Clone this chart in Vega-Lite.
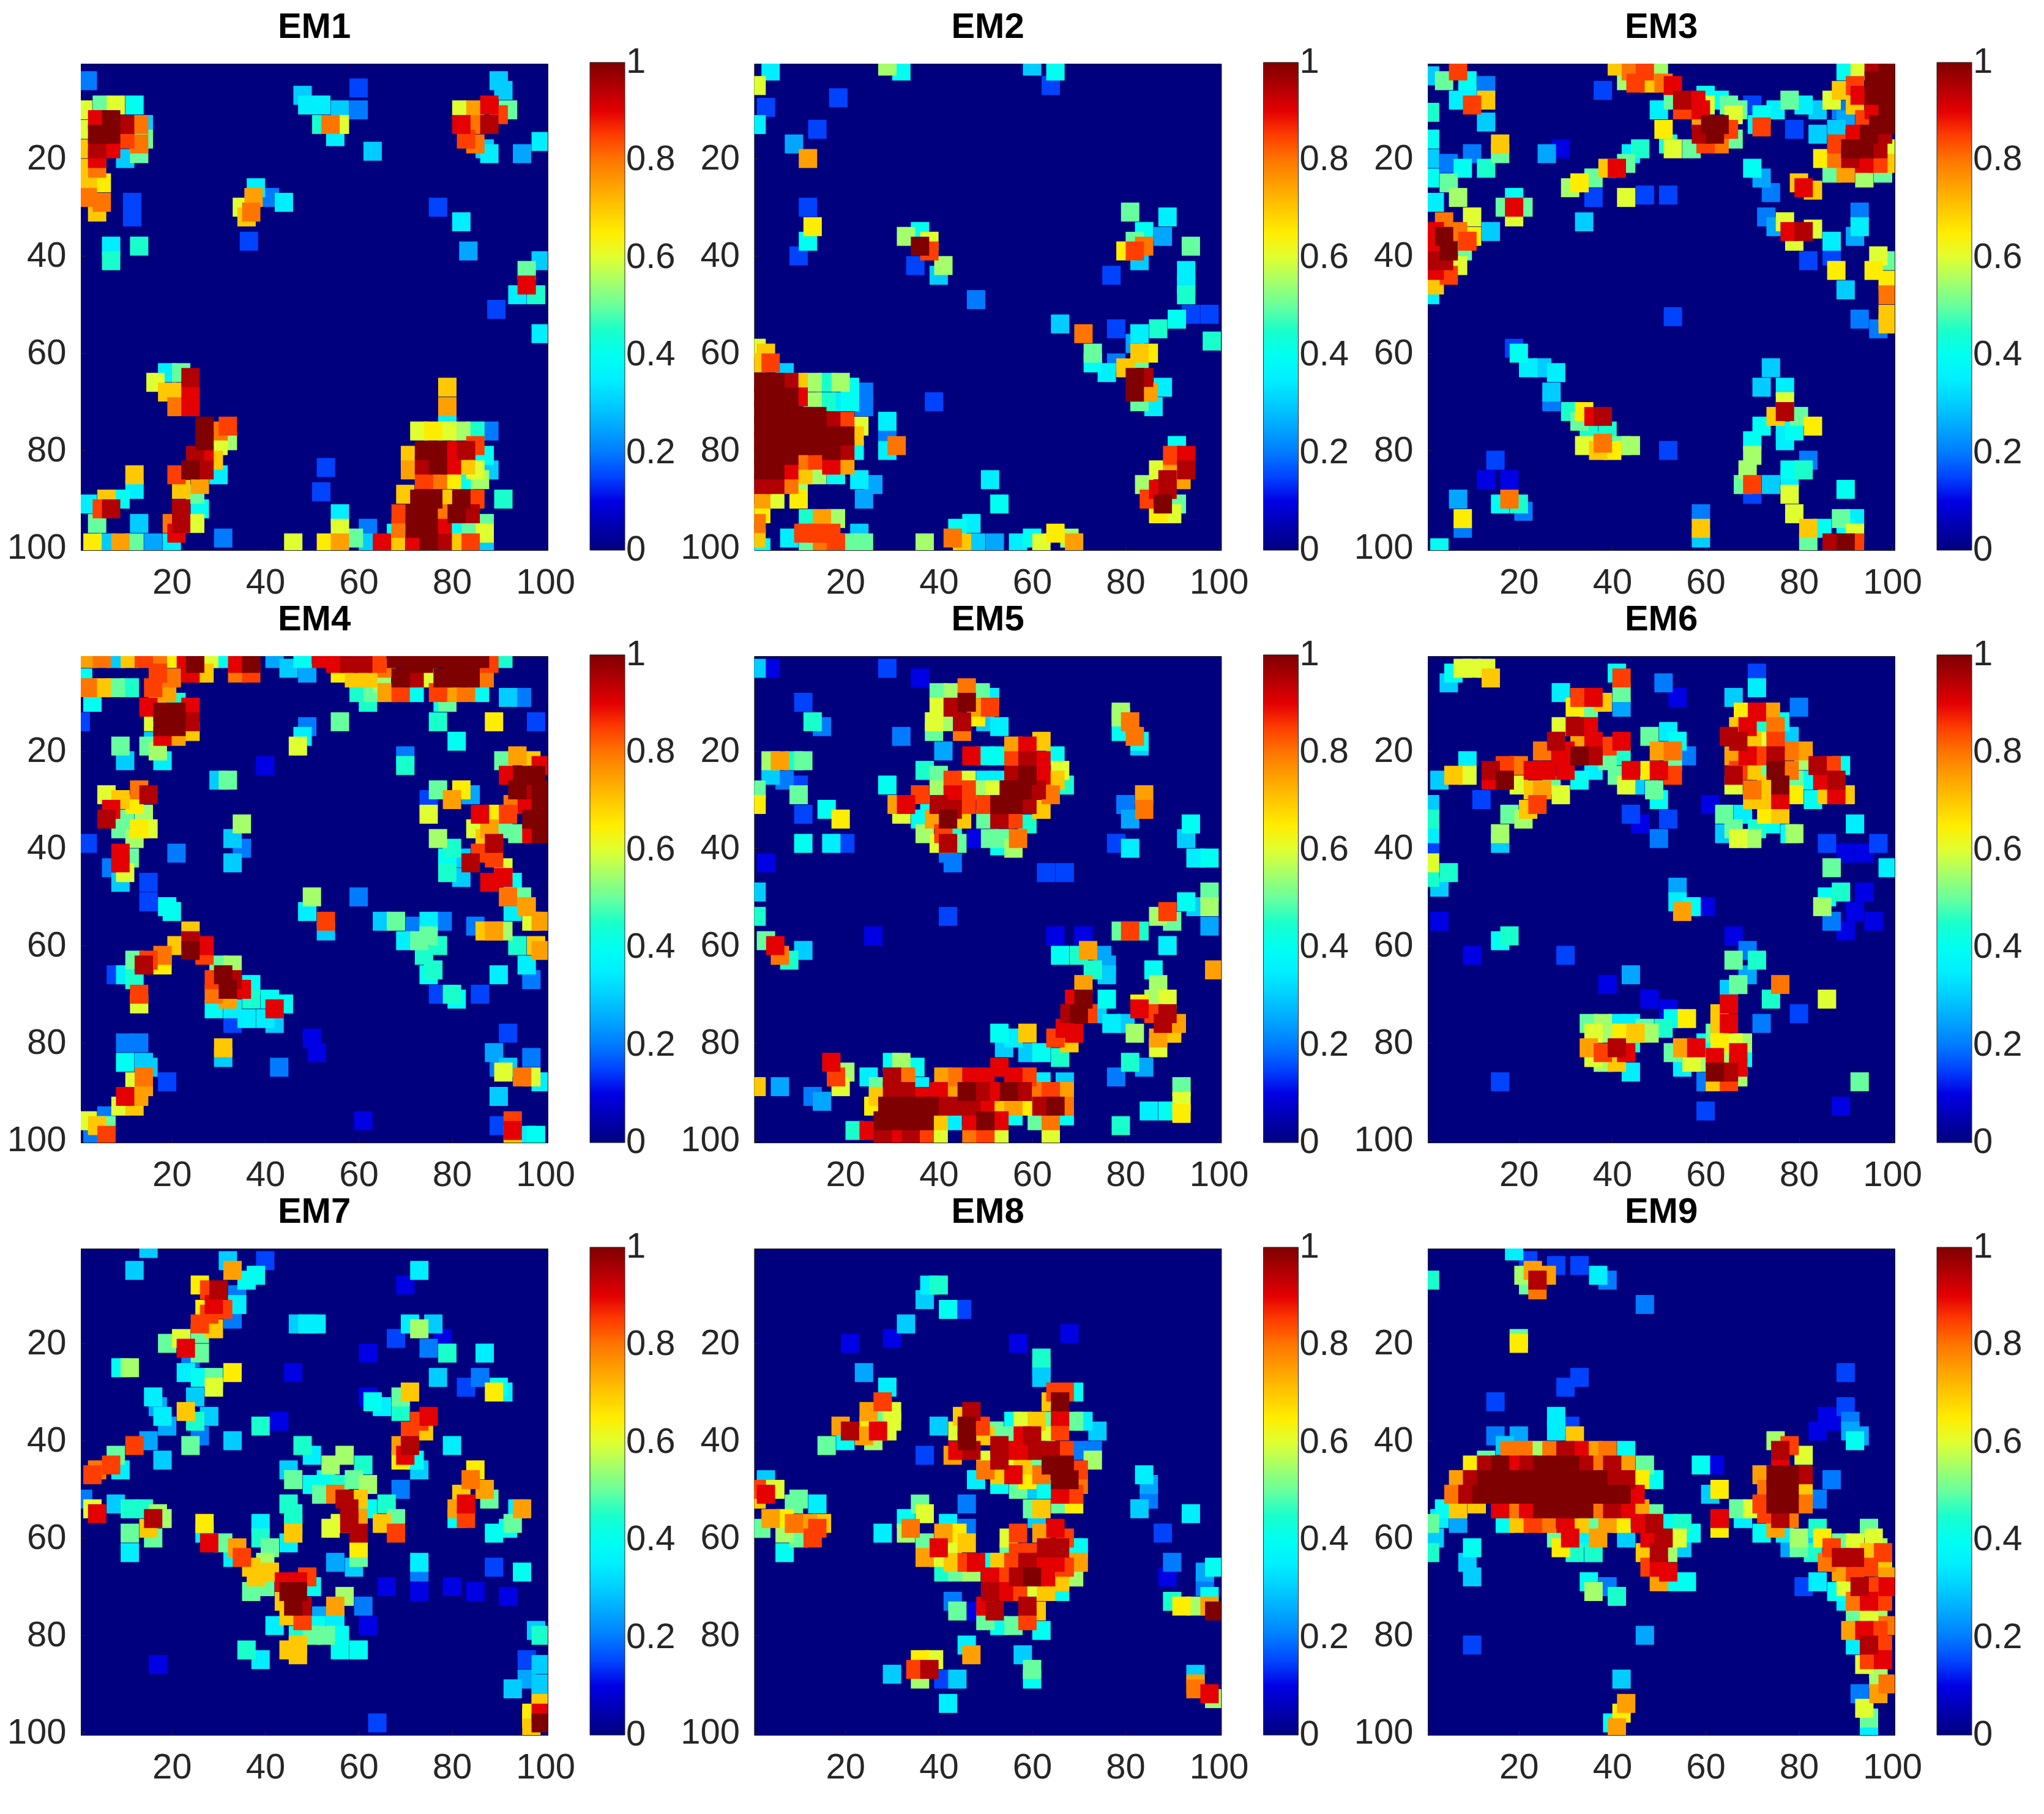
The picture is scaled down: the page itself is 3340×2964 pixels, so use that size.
{"$schema":"https://vega.github.io/schema/vega-lite/v6.json","background":"white","padding":{"left":10,"top":15,"right":0,"bottom":0},"bounds":"flush","columns":3,"spacing":{"row":173,"column":337.5},
"resolve":{"scale":{"color":"independent"}},
"config":{"view":{"continuousWidth":763,"continuousHeight":795,"fill":"#00007f","stroke":"#222222"},
"font":"Liberation Sans",
"title":{"font":"Liberation Sans","fontSize":58,"fontWeight":"bold","color":"#000000","offset":28,"anchor":"middle"},
"axis":{"title":null,"grid":false,"labelFont":"Liberation Sans","labelFontSize":58,"labelColor":"#262626","domainColor":"#262626","tickColor":"#262626","tickSize":-7,"labelPadding":31,"labelOverlap":false,"labelFlush":false},
"legend":{"gradientLength":797,"gradientThickness":57,"labelFont":"Liberation Sans","labelFontSize":58,"labelColor":"#262626","labelOffset":29,"labelOverlap":false,"gradientStrokeColor":"#262626","gradientStrokeWidth":1,"tickCount":6}},
"datasets":{
"em1":[{"x":2,"y":4,"v":0.2},{"x":48,"y":7,"v":0.3},{"x":52,"y":9,"v":0.35},{"x":56,"y":10,"v":0.3},{"x":49,"y":9,"v":0.35},{"x":60,"y":10,"v":0.2},{"x":52,"y":13,"v":0.45},{"x":56,"y":13,"v":0.6},{"x":55,"y":15.5,"v":0.35},{"x":54,"y":13,"v":0.8},{"x":60,"y":5.5,"v":0.15},{"x":63,"y":18.5,"v":0.3},{"x":90,"y":4,"v":0.3},{"x":91,"y":6,"v":0.3},{"x":82,"y":10,"v":0.6},{"x":85,"y":10,"v":0.75},{"x":88,"y":9,"v":0.9},{"x":90,"y":11,"v":0.85},{"x":92,"y":10,"v":0.5},{"x":82,"y":13,"v":0.9},{"x":85,"y":13,"v":0.8},{"x":88,"y":13,"v":0.95},{"x":83,"y":16,"v":0.85},{"x":85,"y":17,"v":0.8},{"x":87,"y":18,"v":0.3},{"x":88,"y":19,"v":0.35},{"x":95,"y":19,"v":0.25},{"x":99,"y":16.5,"v":0.35},
{"x":1,"y":10,"v":0.6},{"x":5,"y":9,"v":0.5},{"x":8,"y":9,"v":0.6},{"x":12,"y":9,"v":0.4},{"x":14,"y":13,"v":0.3},{"x":14,"y":16,"v":0.5},{"x":13,"y":19,"v":0.5},{"x":10,"y":20,"v":0.3},{"x":1,"y":14,"v":0.6},{"x":1,"y":18,"v":0.7},{"x":1,"y":22,"v":0.7},{"x":4,"y":22,"v":0.8},{"x":2,"y":25,"v":0.7},{"x":2,"y":28,"v":0.8},{"x":5,"y":25,"v":0.65},{"x":5,"y":29,"v":0.8},{"x":4,"y":31,"v":0.7},{"x":4,"y":12,"v":0.9},{"x":7,"y":12,"v":1},{"x":4,"y":15,"v":1},{"x":7,"y":15,"v":1},{"x":10,"y":13,"v":0.95},{"x":13,"y":13,"v":0.8},{"x":10,"y":16,"v":0.85},{"x":13,"y":17,"v":0.8},{"x":4,"y":18,"v":0.95},{"x":7,"y":18,"v":0.9},{"x":4,"y":20,"v":0.9},
{"x":38,"y":26,"v":0.35},{"x":41,"y":28,"v":0.2},{"x":44,"y":29,"v":0.35},{"x":35,"y":30,"v":0.6},{"x":36,"y":32,"v":0.7},{"x":37.5,"y":28,"v":0.75},{"x":37,"y":31,"v":0.8},{"x":11.5,"y":29,"v":0.15},{"x":11.5,"y":32,"v":0.15},{"x":7,"y":38,"v":0.35},{"x":7,"y":41,"v":0.45},{"x":13,"y":38,"v":0.45},{"x":36.5,"y":37,"v":0.15},{"x":77,"y":30,"v":0.15},{"x":82,"y":33,"v":0.35},{"x":83.5,"y":39,"v":0.25},{"x":99,"y":41,"v":0.3},{"x":96,"y":43,"v":0.5},{"x":94,"y":48,"v":0.35},{"x":98,"y":48,"v":0.45},{"x":96,"y":46,"v":0.9},{"x":89.5,"y":51,"v":0.15},{"x":99,"y":56,"v":0.35},
{"x":16.5,"y":66,"v":0.6},{"x":19,"y":64,"v":0.35},{"x":19,"y":68,"v":0.7},{"x":22,"y":64,"v":0.5},{"x":22,"y":68,"v":0.7},{"x":24,"y":65,"v":0.95},{"x":24,"y":68,"v":0.9},{"x":21,"y":71,"v":0.8},{"x":24,"y":71,"v":0.9},{"x":30,"y":76,"v":0.8},{"x":32,"y":75,"v":0.85},{"x":32,"y":78,"v":0.55},{"x":30,"y":79,"v":0.6},{"x":27,"y":75,"v":1},{"x":27,"y":78,"v":1},{"x":25,"y":81,"v":0.95},{"x":27,"y":81,"v":0.9},{"x":29,"y":82,"v":0.7},{"x":21,"y":85,"v":0.85},{"x":24,"y":84,"v":1},{"x":27,"y":84,"v":0.95},{"x":30,"y":85,"v":0.35},{"x":22,"y":88,"v":0.7},{"x":26,"y":87,"v":0.75},{"x":25,"y":89,"v":0.5},{"x":22,"y":92,"v":0.95},{"x":26,"y":92,"v":0.4},{"x":20,"y":95,"v":0.8},{"x":22,"y":95,"v":0.95},{"x":25,"y":95,"v":0.6},{"x":21,"y":97,"v":0.9},{"x":20,"y":99,"v":0.35},
{"x":2,"y":91,"v":0.35},{"x":9,"y":90,"v":0.4},{"x":6,"y":90,"v":0.7},{"x":4,"y":95,"v":0.5},{"x":5,"y":92,"v":0.85},{"x":7,"y":92,"v":0.95},{"x":12,"y":85,"v":0.7},{"x":12,"y":88,"v":0.35},{"x":13,"y":95,"v":0.3},{"x":3,"y":99,"v":0.65},{"x":6,"y":99,"v":0.3},{"x":9,"y":99,"v":0.75},{"x":12,"y":99,"v":0.5},{"x":16,"y":99,"v":0.25},{"x":31,"y":98,"v":0.2},{"x":46,"y":99,"v":0.6},{"x":53,"y":83.5,"v":0.15},{"x":52,"y":88.5,"v":0.15},{"x":56,"y":93,"v":0.35},{"x":56,"y":96,"v":0.6},{"x":56,"y":99,"v":0.75},{"x":53,"y":99,"v":0.65},{"x":59,"y":98,"v":0.5},{"x":62,"y":96,"v":0.2},{"x":62,"y":99,"v":0.3},{"x":65,"y":99,"v":0.9},{"x":68,"y":97,"v":0.4},{"x":68,"y":99,"v":0.7},
{"x":79,"y":67,"v":0.7},{"x":79,"y":71,"v":0.75},{"x":79,"y":74,"v":0.35},{"x":73,"y":76,"v":0.6},{"x":76,"y":76,"v":0.65},{"x":79,"y":76,"v":0.6},{"x":82,"y":76,"v":0.55},{"x":85,"y":76,"v":0.45},{"x":88,"y":76,"v":0.2},{"x":71,"y":81,"v":0.7},{"x":74,"y":80,"v":1},{"x":77,"y":80,"v":1},{"x":80,"y":80,"v":0.9},{"x":83,"y":80,"v":0.95},{"x":85,"y":79,"v":0.85},{"x":87,"y":81,"v":0.4},{"x":71,"y":84,"v":0.75},{"x":74,"y":83,"v":0.95},{"x":77,"y":83,"v":1},{"x":80,"y":83,"v":0.9},{"x":83,"y":83,"v":0.7},{"x":85,"y":84,"v":0.6},{"x":88,"y":84,"v":0.3},{"x":74,"y":86,"v":0.85},{"x":77,"y":86,"v":0.8},{"x":80,"y":86,"v":0.65},{"x":83,"y":86,"v":0.4},{"x":86,"y":86,"v":0.55},{"x":70,"y":89,"v":0.7},{"x":73,"y":90,"v":1},{"x":76,"y":90,"v":1},{"x":79,"y":90,"v":0.7},{"x":82,"y":90,"v":1},{"x":85,"y":90,"v":0.85},{"x":91,"y":90,"v":0.45},{"x":69,"y":93,"v":0.85},{"x":72,"y":93,"v":1},{"x":75,"y":93,"v":1},{"x":78,"y":93,"v":0.8},{"x":81,"y":93,"v":1},{"x":84,"y":93,"v":0.95},{"x":87,"y":95,"v":0.5},{"x":69,"y":96,"v":0.8},{"x":72,"y":96,"v":1},{"x":75,"y":96,"v":1},{"x":78,"y":96,"v":0.9},{"x":81,"y":96,"v":0.4},{"x":84,"y":96,"v":0.5},{"x":87,"y":97,"v":0.6},{"x":72,"y":99,"v":0.9},{"x":75,"y":99,"v":1},{"x":78,"y":99,"v":0.95},{"x":81,"y":99,"v":0.7},{"x":84,"y":99,"v":0.85},{"x":87,"y":99,"v":0.3}],
"em2":[{"x":4,"y":2,"v":0.35},{"x":1,"y":5,"v":0.6},{"x":3,"y":9.5,"v":0.15},{"x":1,"y":13,"v":0.35},{"x":18.5,"y":7.5,"v":0.15},{"x":29,"y":1,"v":0.55},{"x":32,"y":2,"v":0.4},{"x":60,"y":1,"v":0.3},{"x":65,"y":2,"v":0.4},{"x":64,"y":5,"v":0.15},{"x":9,"y":17,"v":0.25},{"x":12,"y":20,"v":0.75},{"x":14,"y":14,"v":0.15},{"x":12,"y":30,"v":0.15},{"x":13,"y":34,"v":0.65},{"x":12,"y":37,"v":0.4},{"x":10,"y":40,"v":0.15},{"x":33,"y":36,"v":0.55},{"x":36,"y":35,"v":0.4},{"x":38,"y":37,"v":0.6},{"x":36,"y":38,"v":1},{"x":38,"y":39,"v":0.85},{"x":41,"y":42,"v":0.55},{"x":40,"y":44,"v":0.3},{"x":35,"y":42,"v":0.15},{"x":48,"y":49,"v":0.2},{"x":81,"y":31,"v":0.5},{"x":84,"y":35,"v":0.4},{"x":82,"y":37,"v":0.5},{"x":80,"y":39,"v":0.65},{"x":82,"y":39,"v":0.85},{"x":84,"y":38,"v":0.8},{"x":83,"y":41,"v":0.3},{"x":89,"y":32,"v":0.35},{"x":88,"y":36,"v":0.25},{"x":94,"y":38,"v":0.5},{"x":77,"y":44,"v":0.15},{"x":93,"y":43,"v":0.35},{"x":93,"y":46,"v":0.35},{"x":93,"y":48,"v":0.45},{"x":98,"y":52,"v":0.15},{"x":87,"y":55,"v":0.45},{"x":91,"y":53,"v":0.4},{"x":94,"y":52,"v":0.15},{"x":66,"y":54,"v":0.3},{"x":71,"y":56,"v":0.8},{"x":73,"y":60,"v":0.5},{"x":73,"y":62,"v":0.4},{"x":76,"y":64,"v":0.35},{"x":78,"y":55,"v":0.15},{"x":98.5,"y":57.5,"v":0.45},{"x":83,"y":56,"v":0.35},{"x":82,"y":58,"v":0.25},{"x":83,"y":60,"v":0.7},{"x":85,"y":60,"v":0.65},{"x":83,"y":62,"v":0.5},{"x":78,"y":62,"v":0.2},{"x":80,"y":63,"v":0.7},{"x":82,"y":65,"v":1},{"x":84,"y":65,"v":0.95},{"x":82,"y":68,"v":1},{"x":85,"y":68,"v":0.75},{"x":88,"y":67,"v":0.35},{"x":83,"y":70,"v":0.5},{"x":86,"y":71,"v":0.35},{"x":39,"y":70,"v":0.15},
{"x":1,"y":59,"v":0.6},{"x":3,"y":60,"v":0.7},{"x":1,"y":62,"v":0.7},{"x":4,"y":62,"v":0.85},{"x":7,"y":64,"v":0.3},{"x":2,"y":66,"v":1},{"x":5,"y":66,"v":1},{"x":8,"y":66,"v":0.95},{"x":10,"y":66,"v":0.7},{"x":13,"y":66,"v":0.55},{"x":16,"y":66,"v":0.45},{"x":19,"y":66,"v":0.55},{"x":21,"y":67,"v":0.4},{"x":24,"y":68,"v":0.2},{"x":2,"y":69,"v":1},{"x":5,"y":69,"v":1},{"x":8,"y":69,"v":1},{"x":10,"y":69,"v":0.9},{"x":13,"y":70,"v":0.55},{"x":16,"y":70,"v":0.45},{"x":19,"y":70,"v":0.35},{"x":21,"y":70,"v":0.4},{"x":24,"y":71,"v":0.2},{"x":29,"y":74,"v":0.35},{"x":2,"y":72,"v":1},{"x":5,"y":72,"v":1},{"x":8,"y":72,"v":1},{"x":11,"y":73,"v":1},{"x":14,"y":73,"v":1},{"x":17,"y":74,"v":0.95},{"x":20,"y":74,"v":0.85},{"x":23,"y":75,"v":0.6},{"x":29,"y":77,"v":0.2},{"x":2,"y":75,"v":1},{"x":5,"y":75,"v":1},{"x":8,"y":75,"v":1},{"x":11,"y":76,"v":1},{"x":14,"y":76,"v":1},{"x":17,"y":77,"v":1},{"x":20,"y":77,"v":1},{"x":22,"y":77,"v":0.7},{"x":29,"y":80,"v":0.35},{"x":31,"y":79,"v":0.8},{"x":2,"y":78,"v":1},{"x":5,"y":78,"v":1},{"x":8,"y":78,"v":1},{"x":11,"y":79,"v":1},{"x":14,"y":79,"v":1},{"x":17,"y":80,"v":1},{"x":22,"y":80,"v":0.4},{"x":20,"y":80,"v":0.95},{"x":2,"y":81,"v":1},{"x":5,"y":81,"v":1},{"x":8,"y":81,"v":1},{"x":11,"y":82,"v":0.8},{"x":14,"y":82,"v":0.85},{"x":17,"y":83,"v":0.9},{"x":20,"y":83,"v":0.75},{"x":2,"y":84,"v":1},{"x":5,"y":84,"v":1},{"x":8,"y":84,"v":0.9},{"x":11,"y":85,"v":0.7},{"x":14,"y":85,"v":0.55},{"x":18,"y":85,"v":0.4},{"x":2,"y":87,"v":0.95},{"x":5,"y":87,"v":0.95},{"x":8,"y":87,"v":0.8},{"x":10,"y":88,"v":0.55},{"x":10,"y":90,"v":0.65},{"x":2,"y":90,"v":0.75},{"x":5,"y":90,"v":0.6},{"x":23,"y":86,"v":0.35},{"x":26,"y":87,"v":0.25},{"x":24,"y":90,"v":0.25},{"x":2,"y":93,"v":0.65},{"x":1,"y":95,"v":0.8},{"x":1,"y":98,"v":0.7},{"x":2,"y":100,"v":0.4},
{"x":12,"y":94,"v":0.45},{"x":15,"y":94,"v":0.75},{"x":18,"y":94,"v":0.55},{"x":8,"y":98,"v":0.35},{"x":11,"y":97,"v":0.85},{"x":14,"y":97,"v":0.85},{"x":17,"y":97,"v":0.85},{"x":12,"y":99,"v":0.5},{"x":15,"y":99,"v":0.8},{"x":18,"y":99,"v":0.85},{"x":21,"y":99,"v":0.5},{"x":23,"y":97,"v":0.3},{"x":24,"y":99,"v":0.5},{"x":37,"y":99,"v":0.55},{"x":44,"y":96,"v":0.4},{"x":47,"y":95,"v":0.35},{"x":43,"y":98,"v":0.8},{"x":45,"y":99,"v":0.7},{"x":48,"y":99,"v":0.3},{"x":52,"y":99,"v":0.25},{"x":51,"y":86,"v":0.35},{"x":53,"y":91,"v":0.4},{"x":57,"y":99,"v":0.35},{"x":60,"y":98,"v":0.4},{"x":62,"y":99,"v":0.6},{"x":65,"y":97,"v":0.65},{"x":68,"y":98,"v":0.55},{"x":69,"y":99,"v":0.75},
{"x":91,"y":79,"v":0.4},{"x":90,"y":81,"v":0.85},{"x":93,"y":81,"v":0.9},{"x":87,"y":84,"v":0.6},{"x":90,"y":84,"v":0.75},{"x":93,"y":84,"v":0.95},{"x":89,"y":86,"v":0.95},{"x":92,"y":86,"v":0.75},{"x":84,"y":87,"v":0.55},{"x":87,"y":88,"v":0.9},{"x":89,"y":88,"v":0.95},{"x":87,"y":93,"v":0.65},{"x":90,"y":93,"v":0.6},{"x":85,"y":90,"v":0.85},{"x":88,"y":91,"v":1},{"x":91,"y":91,"v":0.5}],
"em3":[{"x":7,"y":2,"v":0.85},{"x":9,"y":4,"v":0.4},{"x":4,"y":4,"v":0.5},{"x":1,"y":3,"v":0.3},{"x":9,"y":7,"v":0.35},{"x":7,"y":8,"v":0.35},{"x":13,"y":8,"v":0.7},{"x":10,"y":9,"v":0.85},{"x":1,"y":10.5,"v":0.45},{"x":13,"y":5,"v":0.2},{"x":13,"y":12.5,"v":0.3},{"x":1,"y":16,"v":0.4},{"x":16,"y":17,"v":0.7},{"x":16,"y":19,"v":0.5},{"x":10,"y":19,"v":0.2},{"x":1,"y":20,"v":0.3},{"x":5,"y":21,"v":0.2},{"x":8,"y":22,"v":0.4},{"x":13,"y":22,"v":0.45},{"x":1,"y":24,"v":0.4},{"x":5,"y":25,"v":0.5},{"x":7,"y":28,"v":0.55},{"x":2,"y":29,"v":0.35},{"x":4,"y":33,"v":0.8},{"x":2,"y":35,"v":0.9},{"x":7,"y":35,"v":0.8},{"x":10,"y":32,"v":0.6},{"x":10,"y":36,"v":0.65},{"x":9,"y":37,"v":0.85},{"x":4,"y":36,"v":1},{"x":2,"y":38,"v":0.9},{"x":5,"y":39,"v":1},{"x":8,"y":39,"v":0.5},{"x":1,"y":41,"v":0.95},{"x":4,"y":41,"v":0.95},{"x":7,"y":42,"v":0.6},{"x":2,"y":43,"v":0.9},{"x":5,"y":44,"v":0.85},{"x":1,"y":48,"v":0.35},{"x":2,"y":46,"v":0.7},{"x":14,"y":35,"v":0.3},{"x":19,"y":28,"v":0.4},{"x":17,"y":30,"v":0.5},{"x":21,"y":30,"v":0.5},{"x":19,"y":32,"v":0.6},{"x":19,"y":30,"v":0.9},{"x":34,"y":33,"v":0.3},{"x":26,"y":19,"v":0.25},{"x":29,"y":18,"v":0.1},{"x":31,"y":26,"v":0.55},{"x":33,"y":25,"v":0.65},{"x":36,"y":24,"v":0.5},{"x":39,"y":22,"v":0.7},{"x":41,"y":22,"v":0.9},{"x":43,"y":21,"v":0.5},{"x":44,"y":19,"v":0.35},{"x":46,"y":18,"v":0.45},{"x":36,"y":28,"v":0.15},{"x":43,"y":28,"v":0.6},{"x":47,"y":27.5,"v":0.15},{"x":52,"y":27.5,"v":0.15},
{"x":41,"y":1,"v":0.7},{"x":44,"y":2,"v":0.8},{"x":47,"y":2,"v":0.85},{"x":50,"y":1.5,"v":0.55},{"x":43,"y":4,"v":0.55},{"x":45,"y":4.5,"v":0.85},{"x":48,"y":4.5,"v":0.7},{"x":51,"y":4.5,"v":0.8},{"x":53,"y":5,"v":0.9},{"x":38,"y":6,"v":0.15},{"x":53,"y":8,"v":0.5},{"x":60,"y":7,"v":0.4},{"x":63,"y":8,"v":0.4},{"x":60,"y":9,"v":0.6},{"x":65,"y":9,"v":0.5},{"x":67,"y":10,"v":0.5},{"x":55,"y":8,"v":0.95},{"x":58,"y":8,"v":0.9},{"x":55,"y":10,"v":0.85},{"x":59,"y":10,"v":0.9},{"x":50,"y":10,"v":0.35},{"x":51,"y":14,"v":0.65},{"x":52,"y":17,"v":0.45},{"x":53,"y":18,"v":0.6},{"x":57,"y":18,"v":0.5},{"x":59,"y":12,"v":0.75},{"x":61,"y":13,"v":1},{"x":63,"y":13,"v":1},{"x":59,"y":15,"v":0.95},{"x":62,"y":15,"v":1},{"x":65,"y":14,"v":0.85},{"x":60,"y":17,"v":0.85},{"x":63,"y":17,"v":0.8},{"x":66,"y":11,"v":0.6},{"x":66,"y":16,"v":0.5},{"x":71,"y":13,"v":0.35},{"x":72,"y":11,"v":0.4},{"x":72,"y":13.5,"v":0.85},{"x":75,"y":10,"v":0.35},{"x":70,"y":9,"v":0.15},{"x":78,"y":8,"v":0.5},{"x":81,"y":9,"v":0.35},{"x":84,"y":10,"v":0.3},{"x":87,"y":8,"v":0.6},{"x":89,"y":6,"v":0.7},{"x":89,"y":10,"v":0.2},{"x":79,"y":14,"v":0.15},{"x":84,"y":15,"v":0.3},{"x":88,"y":14,"v":0.3},{"x":90,"y":12,"v":0.25},
{"x":90,"y":2,"v":0.4},{"x":93,"y":2,"v":0.6},{"x":96,"y":1,"v":0.95},{"x":99,"y":1,"v":1},{"x":92,"y":5,"v":0.85},{"x":96,"y":4,"v":1},{"x":99,"y":4,"v":1},{"x":93,"y":7,"v":0.9},{"x":96,"y":7,"v":1},{"x":99,"y":7,"v":1},{"x":92,"y":9,"v":0.7},{"x":96,"y":10,"v":0.9},{"x":99,"y":10,"v":1},{"x":94,"y":12,"v":0.85},{"x":97,"y":13,"v":1},{"x":99,"y":13,"v":1},{"x":92,"y":15,"v":0.9},{"x":95,"y":15,"v":1},{"x":98,"y":15,"v":0.95},{"x":88,"y":17,"v":0.85},{"x":91,"y":18,"v":1},{"x":94,"y":18,"v":1},{"x":97,"y":18,"v":0.95},{"x":99,"y":18,"v":0.6},{"x":85,"y":20,"v":0.65},{"x":88,"y":20,"v":0.8},{"x":91,"y":20,"v":0.95},{"x":94,"y":21,"v":0.9},{"x":97,"y":21,"v":0.85},{"x":99,"y":21,"v":0.7},{"x":87,"y":23,"v":0.5},{"x":90,"y":23,"v":0.75},{"x":94,"y":24,"v":0.55},{"x":98,"y":23,"v":0.5},
{"x":70,"y":22,"v":0.4},{"x":72,"y":24,"v":0.25},{"x":80,"y":25,"v":0.7},{"x":81,"y":26,"v":0.9},{"x":83,"y":26.5,"v":0.7},{"x":74,"y":27,"v":0.2},{"x":73,"y":32,"v":0.2},{"x":75,"y":34,"v":0.25},{"x":77,"y":33,"v":0.6},{"x":79,"y":37,"v":0.6},{"x":83,"y":34.5,"v":0.6},{"x":78,"y":35,"v":0.9},{"x":81,"y":35,"v":0.95},{"x":93,"y":31,"v":0.2},{"x":93,"y":34,"v":0.35},{"x":92,"y":36,"v":0.25},{"x":87,"y":37,"v":0.35},{"x":87,"y":40,"v":0.15},{"x":97,"y":40,"v":0.6},{"x":99,"y":41,"v":0.5},{"x":96,"y":43,"v":0.65},{"x":88,"y":43,"v":0.65},{"x":82,"y":41,"v":0.15},{"x":99,"y":45,"v":0.65},{"x":99,"y":48,"v":0.8},{"x":90,"y":47,"v":0.3},{"x":99,"y":52,"v":0.7},{"x":99,"y":54,"v":0.7},{"x":97,"y":55,"v":0.2},{"x":93,"y":53,"v":0.2},{"x":53,"y":52.5,"v":0.15},
{"x":19,"y":59,"v":0.15},{"x":20,"y":60,"v":0.4},{"x":22,"y":63,"v":0.35},{"x":25,"y":63,"v":0.3},{"x":28,"y":64,"v":0.35},{"x":27,"y":68,"v":0.3},{"x":27,"y":70,"v":0.2},{"x":31,"y":72,"v":0.45},{"x":34,"y":72,"v":0.65},{"x":33,"y":74,"v":0.5},{"x":35,"y":76,"v":0.45},{"x":39,"y":76,"v":0.45},{"x":36,"y":73,"v":0.9},{"x":38,"y":73,"v":0.95},{"x":36,"y":78,"v":0.3},{"x":34,"y":79,"v":0.6},{"x":37,"y":80,"v":0.7},{"x":38,"y":78.5,"v":0.8},{"x":40,"y":80,"v":0.65},{"x":42,"y":79,"v":0.5},{"x":44,"y":79,"v":0.55},{"x":52,"y":80,"v":0.15},
{"x":74,"y":63,"v":0.3},{"x":72,"y":67,"v":0.3},{"x":77,"y":67,"v":0.35},{"x":77,"y":70,"v":0.6},{"x":75,"y":73,"v":0.7},{"x":80,"y":73,"v":0.5},{"x":77,"y":72,"v":0.95},{"x":72,"y":75,"v":0.4},{"x":79,"y":76,"v":0.4},{"x":77,"y":76,"v":0.35},{"x":77,"y":78,"v":0.35},{"x":83,"y":75,"v":0.65},{"x":70,"y":78,"v":0.4},{"x":70,"y":81,"v":0.55},{"x":69,"y":84,"v":0.55},{"x":68,"y":87,"v":0.5},{"x":70,"y":87,"v":0.85},{"x":74,"y":87,"v":0.3},{"x":70,"y":89,"v":0.15},{"x":78,"y":84,"v":0.4},{"x":81,"y":84,"v":0.45},{"x":82,"y":82,"v":0.2},{"x":78,"y":86,"v":0.35},{"x":78,"y":89,"v":0.6},{"x":90,"y":88,"v":0.4},{"x":79,"y":93,"v":0.6},{"x":16,"y":91,"v":0.4},{"x":20,"y":91,"v":0.45},{"x":21,"y":92.5,"v":0.2},{"x":18,"y":90,"v":0.8},{"x":7,"y":90,"v":0.25},{"x":8,"y":96,"v":0.2},{"x":8,"y":94,"v":0.65},{"x":13,"y":86,"v":0.1},{"x":18,"y":86,"v":0.1},{"x":15,"y":82,"v":0.15},{"x":3,"y":100,"v":0.4},{"x":59,"y":93,"v":0.2},{"x":59,"y":98,"v":0.3},{"x":59,"y":96,"v":0.7},{"x":85,"y":96,"v":0.4},{"x":82,"y":99,"v":0.5},{"x":82,"y":96,"v":0.7},{"x":89,"y":94,"v":0.5},{"x":92,"y":94,"v":0.35},{"x":90,"y":96,"v":0.4},{"x":92,"y":97,"v":0.6},{"x":87,"y":99,"v":0.95},{"x":90,"y":99,"v":1},{"x":92,"y":99,"v":0.85}],
"em4":[{"x":2,"y":1,"v":0.75},{"x":5,"y":1,"v":0.8},{"x":8,"y":1,"v":0.3},{"x":11,"y":1,"v":0.7},{"x":14,"y":1,"v":0.85},{"x":17,"y":1,"v":0.8},{"x":20,"y":1,"v":0.65},{"x":23,"y":1,"v":0.9},{"x":25,"y":2,"v":1},{"x":28,"y":1,"v":0.6},{"x":31,"y":1,"v":0.4},{"x":34,"y":2,"v":0.9},{"x":37,"y":2,"v":1},{"x":34,"y":4,"v":0.8},{"x":37,"y":4,"v":0.85},{"x":24,"y":4,"v":0.9},{"x":27,"y":4,"v":0.7},{"x":17,"y":4,"v":0.85},{"x":20,"y":5,"v":0.8},{"x":16,"y":7,"v":0.85},{"x":19,"y":8,"v":0.75},{"x":17,"y":10,"v":0.7},{"x":21,"y":10,"v":0.45},{"x":15,"y":11,"v":0.9},{"x":18,"y":12,"v":1},{"x":21,"y":12,"v":1},{"x":24,"y":11,"v":0.9},{"x":16,"y":14,"v":0.6},{"x":24,"y":14,"v":0.95},{"x":18,"y":15,"v":1},{"x":21,"y":15,"v":1},{"x":24,"y":16,"v":0.7},{"x":18,"y":17,"v":0.9},{"x":21,"y":17,"v":0.75},{"x":16,"y":18,"v":0.3},{"x":1,"y":5,"v":0.4},{"x":2,"y":7,"v":0.8},{"x":5,"y":7,"v":0.7},{"x":8,"y":7,"v":0.5},{"x":11,"y":7,"v":0.45},{"x":3,"y":10,"v":0.4},{"x":0.5,"y":14,"v":0.15},{"x":9,"y":19,"v":0.5},{"x":15,"y":19,"v":0.5},{"x":17,"y":20,"v":0.55},{"x":18,"y":22,"v":0.35},{"x":10,"y":22,"v":0.3},{"x":42,"y":1,"v":0.25},{"x":45,"y":3,"v":0.3},{"x":48,"y":1,"v":0.4},{"x":49,"y":4,"v":0.25},
{"x":60,"y":8,"v":0.45},{"x":62,"y":10,"v":0.45},{"x":78,"y":10,"v":0.4},{"x":79,"y":10,"v":0.5},{"x":52,"y":1,"v":0.9},{"x":55,"y":2,"v":0.9},{"x":58,"y":2,"v":0.95},{"x":61,"y":2,"v":0.95},{"x":64,"y":2,"v":0.85},{"x":66,"y":3,"v":0.8},{"x":68,"y":1,"v":1},{"x":71,"y":2,"v":1},{"x":74,"y":2,"v":1},{"x":77,"y":1,"v":1},{"x":80,"y":2,"v":1},{"x":83,"y":2,"v":1},{"x":86,"y":1,"v":1},{"x":88,"y":2,"v":0.85},{"x":91,"y":1,"v":0.45},{"x":56,"y":4,"v":0.65},{"x":59,"y":5,"v":0.7},{"x":62,"y":5,"v":0.7},{"x":65,"y":6,"v":0.55},{"x":63,"y":8,"v":0.5},{"x":66,"y":8,"v":0.75},{"x":69,"y":8,"v":0.85},{"x":72,"y":8,"v":0.4},{"x":77,"y":8,"v":0.85},{"x":80,"y":8,"v":0.75},{"x":83,"y":8,"v":0.8},{"x":86,"y":8,"v":0.4},{"x":69,"y":5,"v":1},{"x":72,"y":5,"v":0.95},{"x":75,"y":5,"v":0.6},{"x":78,"y":5,"v":1},{"x":81,"y":5,"v":1},{"x":84,"y":5,"v":1},{"x":87,"y":5,"v":0.8},{"x":92,"y":9,"v":0.3},{"x":95,"y":9,"v":0.2},{"x":56,"y":14,"v":0.5},{"x":77,"y":14,"v":0.45},{"x":89,"y":14,"v":0.65},{"x":98,"y":14,"v":0.15},{"x":49,"y":15,"v":0.2},{"x":47,"y":19,"v":0.6},{"x":48,"y":17,"v":0.35},{"x":81,"y":18,"v":0.4},{"x":70,"y":23,"v":0.45},{"x":70,"y":21,"v":0.2},{"x":40,"y":23,"v":0.1},
{"x":91,"y":22,"v":0.5},{"x":94,"y":21,"v":0.75},{"x":97,"y":22,"v":0.7},{"x":99,"y":23,"v":0.9},{"x":92,"y":25,"v":0.9},{"x":95,"y":25,"v":1},{"x":98,"y":25,"v":1},{"x":94,"y":28,"v":1},{"x":97,"y":28,"v":0.95},{"x":99,"y":28,"v":1},{"x":93,"y":31,"v":0.8},{"x":96,"y":31,"v":0.9},{"x":99,"y":31,"v":1},{"x":94,"y":37,"v":0.5},{"x":97,"y":34,"v":1},{"x":99,"y":34,"v":1},{"x":97,"y":37,"v":0.9},{"x":99,"y":37,"v":1},{"x":32,"y":26,"v":0.5},{"x":30,"y":26,"v":0.3},{"x":6,"y":29,"v":0.6},{"x":9,"y":30,"v":0.7},{"x":12,"y":31,"v":0.65},{"x":13,"y":28,"v":0.8},{"x":15,"y":29,"v":0.95},{"x":7,"y":32,"v":0.9},{"x":6,"y":34,"v":0.95},{"x":10,"y":34,"v":0.5},{"x":14,"y":33,"v":0.55},{"x":9,"y":36,"v":0.5},{"x":13,"y":36,"v":0.65},{"x":15,"y":36,"v":0.6},{"x":12,"y":38,"v":0.55},{"x":7,"y":44,"v":0.2},{"x":10,"y":45,"v":0.6},{"x":11,"y":42,"v":0.5},{"x":9,"y":41,"v":0.9},{"x":9,"y":43,"v":0.9},{"x":2,"y":39,"v":0.15},{"x":35,"y":35,"v":0.55},{"x":33,"y":38,"v":0.3},{"x":35,"y":40,"v":0.2},{"x":21,"y":41,"v":0.2},{"x":33,"y":43,"v":0.3},
{"x":75,"y":30,"v":0.15},{"x":84,"y":29,"v":0.25},{"x":77,"y":28,"v":0.5},{"x":82,"y":28,"v":0.65},{"x":80,"y":30,"v":0.75},{"x":75,"y":33,"v":0.6},{"x":77,"y":38,"v":0.55},{"x":85,"y":36,"v":0.6},{"x":86,"y":33,"v":0.9},{"x":89,"y":33,"v":0.65},{"x":92,"y":33,"v":0.85},{"x":88,"y":36,"v":0.75},{"x":91,"y":36,"v":0.5},{"x":87,"y":38,"v":0.7},{"x":89,"y":39,"v":0.95},{"x":80,"y":40,"v":0.45},{"x":79,"y":42,"v":0.4},{"x":82,"y":42,"v":0.3},{"x":79,"y":45,"v":0.45},{"x":82,"y":46,"v":0.3},{"x":86,"y":41,"v":0.85},{"x":89,"y":42,"v":0.85},{"x":84,"y":43,"v":0.95},{"x":91,"y":44,"v":0.6},{"x":93,"y":47,"v":0.4},{"x":91,"y":46,"v":0.9},{"x":88,"y":47,"v":0.9},{"x":95,"y":50,"v":0.5},{"x":92,"y":50,"v":0.8},{"x":93,"y":53,"v":0.35},{"x":96,"y":52,"v":0.75},{"x":97,"y":55,"v":0.6},{"x":99,"y":55,"v":0.75},{"x":85,"y":56,"v":0.2},{"x":87,"y":57,"v":0.7},{"x":89,"y":57,"v":0.75},{"x":91,"y":57,"v":0.55},{"x":94,"y":60,"v":0.45},{"x":98,"y":60,"v":0.7},{"x":99,"y":61,"v":0.75},{"x":96,"y":64,"v":0.35},{"x":97,"y":67,"v":0.2},{"x":49,"y":53,"v":0.35},{"x":50,"y":50,"v":0.55},{"x":53,"y":57,"v":0.3},{"x":53,"y":55,"v":0.85},{"x":60,"y":50,"v":0.2},{"x":65,"y":55,"v":0.3},{"x":68,"y":55,"v":0.5},{"x":72,"y":56,"v":0.2},{"x":75,"y":55,"v":0.35},{"x":78,"y":55,"v":0.2},{"x":70,"y":59,"v":0.35},{"x":73,"y":59,"v":0.5},{"x":75,"y":58,"v":0.5},{"x":77,"y":60,"v":0.45},{"x":74,"y":62,"v":0.45},{"x":75,"y":66,"v":0.4},{"x":76,"y":65,"v":0.45},{"x":90,"y":66,"v":0.35},{"x":77,"y":70,"v":0.15},{"x":86,"y":70,"v":0.15},{"x":80,"y":70,"v":0.45},{"x":81,"y":71,"v":0.4},
{"x":19,"y":52,"v":0.4},{"x":20,"y":53,"v":0.4},{"x":24,"y":57,"v":0.7},{"x":21,"y":60,"v":0.7},{"x":18,"y":62,"v":0.8},{"x":18,"y":64,"v":0.65},{"x":24,"y":59,"v":0.95},{"x":27,"y":60,"v":0.9},{"x":24,"y":61,"v":1},{"x":27,"y":62,"v":0.85},{"x":15,"y":63,"v":0.85},{"x":12,"y":63,"v":0.5},{"x":14,"y":64,"v":0.95},{"x":10,"y":66,"v":0.35},{"x":12,"y":67,"v":0.45},{"x":13,"y":72,"v":0.6},{"x":13,"y":70,"v":0.85},{"x":8,"y":66,"v":0.15},{"x":9,"y":47,"v":0.3},{"x":15,"y":47,"v":0.15},{"x":15,"y":51,"v":0.15},{"x":30,"y":64,"v":0.5},{"x":33,"y":64,"v":0.55},{"x":29,"y":67,"v":0.85},{"x":31,"y":66,"v":1},{"x":33,"y":67,"v":0.95},{"x":37,"y":68,"v":0.4},{"x":37,"y":71,"v":0.45},{"x":29,"y":70,"v":0.8},{"x":32,"y":71,"v":0.75},{"x":32,"y":69,"v":1},{"x":35,"y":69,"v":0.9},{"x":29,"y":73,"v":0.4},{"x":33,"y":73,"v":0.35},{"x":36,"y":75,"v":0.35},{"x":40,"y":75,"v":0.35},{"x":41,"y":71,"v":0.4},{"x":44,"y":72,"v":0.4},{"x":42,"y":73,"v":0.9},{"x":42,"y":76,"v":0.3},{"x":33,"y":76,"v":0.15},{"x":10,"y":80,"v":0.2},{"x":13,"y":80,"v":0.2},{"x":10,"y":84,"v":0.4},{"x":14,"y":84,"v":0.3},{"x":31,"y":83,"v":0.3},{"x":31,"y":81,"v":0.7},{"x":15,"y":85,"v":0.3},{"x":14,"y":87,"v":0.8},{"x":12,"y":88,"v":0.6},{"x":14,"y":89,"v":0.75},{"x":9,"y":93,"v":0.6},{"x":12,"y":93,"v":0.7},{"x":10,"y":91,"v":0.9},{"x":13,"y":91,"v":0.75},{"x":19,"y":88,"v":0.15},{"x":6,"y":95,"v":0.2},{"x":3,"y":99,"v":0.2},{"x":2,"y":96,"v":0.6},{"x":4,"y":97,"v":0.7},{"x":6,"y":97,"v":0.5},{"x":6,"y":99,"v":0.85},{"x":50,"y":79,"v":0.1},{"x":51,"y":82,"v":0.1},{"x":43,"y":85,"v":0.2},{"x":61,"y":96,"v":0.1},{"x":90,"y":85,"v":0.2},{"x":92,"y":78,"v":0.15},{"x":97,"y":83,"v":0.2},{"x":89,"y":82,"v":0.25},{"x":92,"y":85,"v":0.3},{"x":91,"y":86,"v":0.6},{"x":97,"y":87,"v":0.6},{"x":95,"y":87,"v":0.8},{"x":99,"y":88,"v":0.35},{"x":90,"y":91,"v":0.3},{"x":90,"y":97,"v":0.15},{"x":96,"y":99,"v":0.35},{"x":98,"y":99,"v":0.4},{"x":93,"y":96,"v":0.85},{"x":93,"y":98,"v":0.9},{"x":93,"y":99,"v":0.7}],
"em5":[{"x":1,"y":3,"v":0.3},{"x":4,"y":3,"v":0.1},{"x":29,"y":3,"v":0.15},{"x":36,"y":5,"v":0.1},{"x":11,"y":10,"v":0.15},{"x":15,"y":15,"v":0.2},{"x":13,"y":14,"v":0.45},{"x":40,"y":8,"v":0.5},{"x":43,"y":8,"v":0.55},{"x":49,"y":8,"v":0.5},{"x":51,"y":9,"v":0.35},{"x":46,"y":7,"v":0.8},{"x":40,"y":11,"v":0.6},{"x":43,"y":11,"v":0.95},{"x":46,"y":10,"v":1},{"x":49,"y":11,"v":0.75},{"x":51,"y":11,"v":0.85},{"x":50,"y":14,"v":0.3},{"x":39,"y":14,"v":0.6},{"x":42,"y":14,"v":0.55},{"x":45,"y":14,"v":0.95},{"x":48,"y":13,"v":0.65},{"x":39,"y":16,"v":0.5},{"x":45,"y":16,"v":0.8},{"x":53,"y":15,"v":0.35},{"x":32,"y":17,"v":0.2},{"x":79,"y":12,"v":0.55},{"x":79,"y":13,"v":0.55},{"x":79,"y":16,"v":0.4},{"x":83,"y":18,"v":0.4},{"x":83,"y":19,"v":0.3},{"x":81,"y":14,"v":0.8},{"x":82,"y":17,"v":0.8},
{"x":41,"y":20,"v":0.25},{"x":56,"y":19,"v":0.75},{"x":59,"y":19,"v":0.9},{"x":62,"y":18,"v":0.7},{"x":65,"y":21,"v":0.4},{"x":47,"y":21,"v":0.9},{"x":50,"y":21,"v":0.4},{"x":53,"y":21,"v":0.4},{"x":56,"y":22,"v":0.85},{"x":59,"y":22,"v":0.95},{"x":62,"y":22,"v":0.9},{"x":66,"y":24,"v":0.6},{"x":37,"y":24,"v":0.45},{"x":40,"y":25,"v":0.5},{"x":43,"y":26,"v":0.85},{"x":46,"y":26,"v":0.6},{"x":50,"y":26,"v":0.35},{"x":53,"y":26,"v":0.35},{"x":56,"y":25,"v":0.95},{"x":59,"y":25,"v":1},{"x":62,"y":25,"v":0.9},{"x":65,"y":26,"v":0.7},{"x":29,"y":27,"v":0.4},{"x":36,"y":29,"v":0.85},{"x":40,"y":28,"v":0.55},{"x":43,"y":29,"v":0.9},{"x":46,"y":28,"v":0.85},{"x":49,"y":28,"v":0.55},{"x":52,"y":28,"v":0.6},{"x":55,"y":28,"v":1},{"x":58,"y":28,"v":1},{"x":61,"y":28,"v":0.95},{"x":64,"y":29,"v":0.8},{"x":67,"y":27,"v":0.45},{"x":31,"y":31,"v":0.75},{"x":33,"y":31,"v":0.9},{"x":38,"y":31,"v":0.4},{"x":40,"y":31,"v":0.95},{"x":43,"y":32,"v":0.95},{"x":46,"y":31,"v":0.85},{"x":50,"y":31,"v":0.85},{"x":53,"y":31,"v":1},{"x":56,"y":31,"v":1},{"x":59,"y":31,"v":0.95},{"x":62,"y":32,"v":0.7},{"x":32,"y":33,"v":0.6},{"x":36,"y":34,"v":0.4},{"x":39,"y":34,"v":0.75},{"x":42,"y":34,"v":1},{"x":45,"y":34,"v":0.7},{"x":50,"y":34,"v":0.5},{"x":53,"y":34,"v":0.95},{"x":56,"y":34,"v":0.85},{"x":59,"y":35,"v":0.45},{"x":37,"y":37,"v":0.55},{"x":41,"y":37,"v":0.85},{"x":43,"y":37,"v":0.45},{"x":51,"y":38,"v":0.5},{"x":54,"y":38,"v":0.5},{"x":57,"y":38,"v":0.8},{"x":40,"y":39,"v":0.6},{"x":44,"y":39,"v":0.5},{"x":42,"y":39,"v":0.95},{"x":53,"y":39.5,"v":0.4},{"x":56,"y":40,"v":0.55},{"x":43,"y":43,"v":0.2},{"x":42,"y":41,"v":0.2},{"x":48,"y":38,"v":0.1},
{"x":4,"y":22,"v":0.55},{"x":6,"y":22,"v":0.75},{"x":9,"y":22,"v":0.45},{"x":11,"y":22,"v":0.5},{"x":4,"y":25,"v":0.3},{"x":7,"y":26,"v":0.2},{"x":10,"y":27,"v":0.15},{"x":1,"y":28,"v":0.5},{"x":1,"y":31,"v":0.65},{"x":10,"y":29,"v":0.5},{"x":16,"y":32,"v":0.4},{"x":19,"y":34,"v":0.65},{"x":11,"y":33,"v":0.15},{"x":11,"y":39,"v":0.4},{"x":17,"y":39,"v":0.35},{"x":20,"y":39,"v":0.15},{"x":78,"y":39,"v":0.15},{"x":81,"y":40,"v":0.35},{"x":80,"y":31,"v":0.2},{"x":81,"y":34,"v":0.25},{"x":84,"y":29,"v":0.75},{"x":84,"y":32,"v":0.8},{"x":94,"y":35,"v":0.4},{"x":93,"y":38,"v":0.3},{"x":95,"y":42,"v":0.35},{"x":98,"y":42,"v":0.4},{"x":63,"y":45,"v":0.15},{"x":67,"y":45,"v":0.15},{"x":3,"y":43,"v":0.1},{"x":1,"y":49,"v":0.3},{"x":1,"y":54,"v":0.45},{"x":42,"y":54,"v":0.15},{"x":98,"y":49,"v":0.5},{"x":98,"y":52,"v":0.55},{"x":93,"y":51,"v":0.4},{"x":87,"y":54,"v":0.55},{"x":90,"y":55,"v":0.5},{"x":89,"y":53,"v":0.85},{"x":95,"y":52,"v":0.3},{"x":98,"y":56,"v":0.25},{"x":79,"y":57,"v":0.5},{"x":83,"y":57,"v":0.45},{"x":81,"y":57,"v":0.85},{"x":89,"y":60,"v":0.35},{"x":26,"y":58,"v":0.1},{"x":65,"y":58,"v":0.1},{"x":71,"y":58,"v":0.1},{"x":3,"y":59,"v":0.5},{"x":8,"y":63,"v":0.45},{"x":11,"y":61,"v":0.3},{"x":5,"y":60,"v":0.9},{"x":6,"y":62,"v":0.8},
{"x":66,"y":62,"v":0.4},{"x":70,"y":62,"v":0.45},{"x":75,"y":62,"v":0.25},{"x":72,"y":61,"v":0.75},{"x":73,"y":65,"v":0.45},{"x":76,"y":64,"v":0.25},{"x":76,"y":66,"v":0.3},{"x":99,"y":65,"v":0.75},{"x":86,"y":65,"v":0.4},{"x":87,"y":68,"v":0.55},{"x":71,"y":68,"v":0.75},{"x":69,"y":71,"v":0.9},{"x":71,"y":71,"v":1},{"x":68,"y":74,"v":0.95},{"x":70,"y":74,"v":1},{"x":72,"y":74,"v":0.85},{"x":67,"y":77,"v":0.9},{"x":69,"y":78,"v":0.9},{"x":65,"y":79,"v":0.85},{"x":68,"y":80,"v":0.7},{"x":76,"y":71,"v":0.4},{"x":74,"y":74,"v":0.3},{"x":77,"y":76,"v":0.35},{"x":80,"y":76,"v":0.3},{"x":82,"y":78,"v":0.55},{"x":83,"y":72,"v":0.65},{"x":86,"y":71,"v":0.55},{"x":89,"y":71,"v":0.6},{"x":83,"y":73,"v":0.9},{"x":86,"y":74,"v":0.85},{"x":89,"y":74,"v":0.95},{"x":88,"y":76,"v":0.95},{"x":91,"y":76,"v":0.75},{"x":87,"y":79,"v":0.75},{"x":90,"y":78,"v":0.7},{"x":87,"y":81,"v":0.6},{"x":56,"y":79,"v":0.35},{"x":53,"y":78,"v":0.4},{"x":59,"y":78,"v":0.7},{"x":66,"y":83,"v":0.45},{"x":62,"y":82,"v":0.4},{"x":54,"y":81,"v":0.3},{"x":59,"y":82,"v":0.3},{"x":81,"y":84,"v":0.45},{"x":84,"y":85,"v":0.25},{"x":78,"y":87,"v":0.2},{"x":1,"y":89,"v":0.7},{"x":6,"y":89,"v":0.25},{"x":17,"y":84,"v":0.9},{"x":20,"y":86,"v":0.55},{"x":19,"y":89,"v":0.6},{"x":18,"y":87,"v":0.85},{"x":15,"y":92,"v":0.25},{"x":13,"y":91,"v":0.2},
{"x":30,"y":84,"v":0.4},{"x":32,"y":84,"v":0.55},{"x":35,"y":85,"v":0.4},{"x":25,"y":87,"v":0.35},{"x":27,"y":89,"v":0.5},{"x":30,"y":87,"v":0.95},{"x":33,"y":87,"v":0.8},{"x":36,"y":89,"v":0.35},{"x":41,"y":87,"v":0.75},{"x":44,"y":87,"v":0.8},{"x":47,"y":87,"v":0.9},{"x":50,"y":87,"v":0.9},{"x":53,"y":85,"v":0.9},{"x":56,"y":87,"v":0.9},{"x":59,"y":87,"v":0.85},{"x":62,"y":88,"v":0.35},{"x":67,"y":88,"v":0.3},{"x":27,"y":91,"v":0.7},{"x":30,"y":90,"v":0.95},{"x":33,"y":90,"v":0.95},{"x":36,"y":91,"v":0.9},{"x":40,"y":90,"v":0.9},{"x":43,"y":90,"v":0.75},{"x":46,"y":90,"v":1},{"x":49,"y":90,"v":0.95},{"x":52,"y":90,"v":0.9},{"x":55,"y":90,"v":1},{"x":58,"y":90,"v":0.95},{"x":61,"y":90,"v":0.8},{"x":64,"y":90,"v":0.85},{"x":67,"y":90,"v":0.75},{"x":26,"y":93,"v":0.65},{"x":29,"y":93,"v":1},{"x":32,"y":93,"v":1},{"x":35,"y":93,"v":1},{"x":38,"y":93,"v":1},{"x":41,"y":93,"v":0.95},{"x":44,"y":93,"v":0.95},{"x":47,"y":93,"v":0.95},{"x":50,"y":93,"v":0.9},{"x":53,"y":93,"v":0.7},{"x":56,"y":93,"v":0.75},{"x":59,"y":93,"v":0.65},{"x":62,"y":93,"v":0.95},{"x":65,"y":93,"v":1},{"x":67,"y":93,"v":0.8},{"x":28,"y":96,"v":1},{"x":31,"y":96,"v":1},{"x":34,"y":96,"v":1},{"x":37,"y":96,"v":1},{"x":40,"y":96,"v":0.7},{"x":43,"y":96,"v":0.35},{"x":47,"y":96,"v":0.9},{"x":50,"y":96,"v":1},{"x":53,"y":96,"v":0.9},{"x":56,"y":95,"v":0.4},{"x":61,"y":96,"v":0.5},{"x":64,"y":96,"v":0.8},{"x":67,"y":95,"v":0.4},{"x":22,"y":98,"v":0.45},{"x":25,"y":98,"v":0.9},{"x":28,"y":99,"v":0.95},{"x":31,"y":99,"v":0.9},{"x":34,"y":99,"v":0.95},{"x":37,"y":99,"v":0.85},{"x":40,"y":99,"v":0.6},{"x":47,"y":99,"v":0.8},{"x":50,"y":99,"v":0.85},{"x":53,"y":99,"v":0.6},{"x":64,"y":99,"v":0.6},{"x":92,"y":89,"v":0.5},{"x":92,"y":92,"v":0.6},{"x":92,"y":94.5,"v":0.65},{"x":85,"y":94,"v":0.35},{"x":89,"y":94,"v":0.4},{"x":79,"y":97,"v":0.45}],
"em6":[{"x":5,"y":6,"v":0.3},{"x":6,"y":4,"v":0.4},{"x":8,"y":3,"v":0.6},{"x":10,"y":3,"v":0.6},{"x":13,"y":3,"v":0.6},{"x":14,"y":5,"v":0.7},{"x":41,"y":4,"v":0.4},{"x":42,"y":8,"v":0.5},{"x":42,"y":11,"v":0.25},{"x":42,"y":5,"v":0.85},{"x":51,"y":6,"v":0.2},{"x":54,"y":9,"v":0.1},{"x":3,"y":26,"v":0.3},{"x":9,"y":22,"v":0.35},{"x":6,"y":25,"v":0.7},{"x":9,"y":25,"v":0.6},{"x":29,"y":8,"v":0.35},{"x":32,"y":11,"v":0.65},{"x":35,"y":12,"v":0.5},{"x":33,"y":9,"v":0.85},{"x":36,"y":9,"v":0.9},{"x":38,"y":10,"v":0.7},{"x":29,"y":15,"v":0.6},{"x":32,"y":15,"v":0.95},{"x":35,"y":15,"v":0.9},{"x":33,"y":19,"v":0.6},{"x":33,"y":18,"v":0.75},{"x":36,"y":18,"v":0.9},{"x":25,"y":20,"v":0.8},{"x":28,"y":18,"v":0.95},{"x":29,"y":21,"v":0.9},{"x":30,"y":20,"v":0.9},{"x":33,"y":21,"v":1},{"x":36,"y":21,"v":0.95},{"x":39,"y":19,"v":0.85},{"x":42,"y":18,"v":0.9},{"x":14,"y":24,"v":0.95},{"x":17,"y":23,"v":0.85},{"x":20,"y":23,"v":0.8},{"x":23,"y":24,"v":0.9},{"x":26,"y":24,"v":0.9},{"x":30,"y":24,"v":0.9},{"x":14,"y":26,"v":0.9},{"x":17,"y":26,"v":1},{"x":20,"y":27,"v":0.6},{"x":23,"y":28,"v":0.7},{"x":27,"y":27,"v":0.5},{"x":39,"y":22,"v":0.5},{"x":42,"y":21,"v":0.45},{"x":41,"y":25,"v":0.5},{"x":43,"y":27,"v":0.6},{"x":45,"y":27,"v":0.3},{"x":33,"y":26,"v":0.4},{"x":36,"y":24,"v":0.35},{"x":44,"y":24,"v":0.9},{"x":25,"y":28,"v":0.75},{"x":29,"y":29,"v":0.6},{"x":22,"y":32,"v":0.7},{"x":24,"y":31,"v":0.85},{"x":18,"y":33,"v":0.5},{"x":21,"y":34,"v":0.55},{"x":16,"y":37,"v":0.55},{"x":16,"y":39,"v":0.3},{"x":48,"y":17,"v":0.5},{"x":52,"y":16,"v":0.35},{"x":54,"y":18,"v":0.4},{"x":50,"y":20,"v":0.75},{"x":53,"y":20,"v":0.8},{"x":53,"y":22,"v":0.5},{"x":56,"y":21,"v":0.2},{"x":48,"y":24,"v":0.65},{"x":50,"y":24,"v":0.9},{"x":53,"y":25,"v":0.85},{"x":49,"y":28,"v":0.5},{"x":50,"y":30,"v":0.4},{"x":44,"y":33,"v":0.15},{"x":52,"y":34,"v":0.15},{"x":46,"y":35,"v":0.1},{"x":50,"y":38,"v":0.2},{"x":12,"y":30,"v":0.15},
{"x":71,"y":4,"v":0.15},{"x":71,"y":7,"v":0.35},{"x":66,"y":9,"v":0.3},{"x":68,"y":12,"v":0.65},{"x":71,"y":12,"v":0.9},{"x":74,"y":12,"v":0.75},{"x":76,"y":14,"v":0.4},{"x":80,"y":11,"v":0.2},{"x":67,"y":15,"v":0.7},{"x":69,"y":15,"v":0.9},{"x":72,"y":15,"v":0.45},{"x":75,"y":15,"v":0.8},{"x":78,"y":17,"v":0.3},{"x":65,"y":17,"v":0.95},{"x":67,"y":18,"v":0.95},{"x":70,"y":18,"v":0.7},{"x":73,"y":18,"v":0.6},{"x":75,"y":18,"v":0.85},{"x":66,"y":21,"v":0.75},{"x":69,"y":21,"v":0.9},{"x":72,"y":21,"v":0.85},{"x":75,"y":21,"v":0.95},{"x":78,"y":20,"v":0.8},{"x":81,"y":20,"v":0.75},{"x":67,"y":24,"v":0.85},{"x":66,"y":25,"v":0.95},{"x":70,"y":24,"v":0.7},{"x":72,"y":24,"v":0.5},{"x":75,"y":24,"v":1},{"x":78,"y":24,"v":0.8},{"x":81,"y":22,"v":0.55},{"x":84,"y":23,"v":0.95},{"x":87,"y":23,"v":0.85},{"x":89,"y":23,"v":0.4},{"x":66,"y":27,"v":0.6},{"x":70,"y":28,"v":0.8},{"x":73,"y":27,"v":0.7},{"x":76,"y":27,"v":1},{"x":79,"y":26,"v":0.5},{"x":82,"y":26,"v":0.4},{"x":85,"y":26,"v":0.9},{"x":88,"y":26,"v":0.95},{"x":70,"y":30,"v":0.7},{"x":73,"y":30,"v":0.7},{"x":76,"y":30,"v":0.9},{"x":79,"y":29,"v":0.65},{"x":83,"y":30,"v":0.4},{"x":86,"y":29,"v":0.7},{"x":88,"y":29,"v":0.9},{"x":90,"y":29,"v":0.7},{"x":73,"y":33,"v":0.65},{"x":76,"y":33,"v":0.7},{"x":64,"y":33,"v":0.5},{"x":68,"y":33,"v":0.35},{"x":71,"y":36,"v":0.45},{"x":74,"y":35,"v":0.4},{"x":64,"y":37,"v":0.3},{"x":66,"y":36,"v":0.5},{"x":67,"y":38,"v":0.6},{"x":70,"y":38,"v":0.55},{"x":78,"y":37,"v":0.4},{"x":79,"y":37,"v":0.55},{"x":61,"y":31,"v":0.1},
{"x":92,"y":35,"v":0.35},{"x":86,"y":39,"v":0.15},{"x":97,"y":39,"v":0.15},{"x":90,"y":41,"v":0.1},{"x":94,"y":41,"v":0.1},{"x":87,"y":44,"v":0.5},{"x":99,"y":44,"v":0.35},{"x":1,"y":31,"v":0.3},{"x":1,"y":34,"v":0.45},{"x":1,"y":37,"v":0.35},{"x":1,"y":40,"v":0.15},{"x":1,"y":46,"v":0.45},{"x":1,"y":43,"v":0.6},{"x":5,"y":45,"v":0.45},{"x":3,"y":48,"v":0.3},{"x":54,"y":48,"v":0.25},{"x":54,"y":51,"v":0.35},{"x":57,"y":52,"v":0.4},{"x":55,"y":53,"v":0.75},{"x":60,"y":52,"v":0.1},{"x":86,"y":50,"v":0.4},{"x":89,"y":49,"v":0.45},{"x":87,"y":55,"v":0.2},{"x":85,"y":52,"v":0.55},{"x":94,"y":49,"v":0.1},{"x":92,"y":53,"v":0.1},{"x":96,"y":55,"v":0.1},{"x":3,"y":55,"v":0.1},{"x":90,"y":57,"v":0.1},{"x":16,"y":59,"v":0.4},{"x":18,"y":58,"v":0.45},{"x":10,"y":62,"v":0.1},{"x":30,"y":62,"v":0.15},{"x":66,"y":58,"v":0.1},{"x":44,"y":66,"v":0.25},{"x":39,"y":68,"v":0.1},{"x":69,"y":61,"v":0.2},{"x":69,"y":66,"v":0.25},{"x":66,"y":63,"v":0.5},{"x":71,"y":63,"v":0.45},{"x":67,"y":68,"v":0.5},{"x":74,"y":71,"v":0.45},{"x":76,"y":68,"v":0.8},{"x":65,"y":69,"v":0.3},{"x":63,"y":74,"v":0.7},{"x":63,"y":76,"v":0.7},{"x":65,"y":72,"v":0.9},{"x":65,"y":76,"v":0.9},{"x":86,"y":71,"v":0.6},{"x":80,"y":74,"v":0.15},{"x":48,"y":71,"v":0.1},{"x":52,"y":73,"v":0.1},{"x":53,"y":75,"v":0.4},{"x":56,"y":75,"v":0.65},{"x":35,"y":76,"v":0.5},{"x":38,"y":76,"v":0.55},{"x":41,"y":76,"v":0.35},{"x":44,"y":76,"v":0.35},{"x":47,"y":77,"v":0.5},{"x":36,"y":78,"v":0.6},{"x":39,"y":78,"v":0.55},{"x":42,"y":78,"v":0.65},{"x":45,"y":78,"v":0.7},{"x":48,"y":78,"v":0.55},{"x":51,"y":77,"v":0.45},{"x":44,"y":80,"v":0.45},{"x":36,"y":83,"v":0.6},{"x":38,"y":84,"v":0.55},{"x":41,"y":84,"v":0.7},{"x":44,"y":86,"v":0.35},{"x":35,"y":81,"v":0.75},{"x":38,"y":82,"v":0.85},{"x":41,"y":81,"v":0.95},{"x":43,"y":82,"v":0.9},{"x":53,"y":82,"v":0.5},{"x":55,"y":85,"v":0.35},{"x":57,"y":84,"v":0.6},{"x":55,"y":81,"v":0.75},{"x":58,"y":81,"v":0.9},{"x":60,"y":80,"v":0.4},{"x":62,"y":78,"v":0.5},{"x":63,"y":80,"v":0.65},{"x":66,"y":80,"v":0.6},{"x":68,"y":80,"v":0.55},{"x":68,"y":83,"v":0.4},{"x":60,"y":84,"v":0.55},{"x":65,"y":83,"v":0.55},{"x":62,"y":83,"v":0.9},{"x":67,"y":82,"v":0.9},{"x":60,"y":88,"v":0.2},{"x":67,"y":87,"v":0.55},{"x":62,"y":88,"v":0.7},{"x":65,"y":88,"v":0.85},{"x":62,"y":86,"v":1},{"x":65,"y":86,"v":0.95},{"x":67,"y":85,"v":0.9},{"x":72,"y":76,"v":0.2},{"x":16,"y":88,"v":0.15},{"x":93,"y":88,"v":0.5},{"x":60,"y":94,"v":0.15},{"x":89,"y":93,"v":0.1}],
"em7":[{"x":15,"y":0.5,"v":0.3},{"x":12,"y":5,"v":0.3},{"x":40,"y":3,"v":0.15},{"x":32,"y":3,"v":0.3},{"x":33,"y":5,"v":0.75},{"x":36,"y":7,"v":0.4},{"x":38,"y":6,"v":0.4},{"x":34,"y":10,"v":0.2},{"x":33,"y":15,"v":0.2},{"x":34,"y":12,"v":0.35},{"x":26,"y":8,"v":0.65},{"x":28,"y":9,"v":0.85},{"x":30,"y":9,"v":0.95},{"x":27,"y":13,"v":0.65},{"x":29,"y":12,"v":0.9},{"x":31,"y":13,"v":0.85},{"x":28,"y":14,"v":0.85},{"x":29,"y":17,"v":0.7},{"x":26,"y":18,"v":0.5},{"x":26,"y":16,"v":0.85},{"x":73,"y":5,"v":0.35},{"x":70,"y":8,"v":0.1},{"x":47,"y":16,"v":0.3},{"x":49,"y":16,"v":0.35},{"x":51,"y":16,"v":0.35},{"x":71,"y":16,"v":0.35},{"x":76,"y":16,"v":0.3},{"x":73,"y":17,"v":0.55},{"x":68,"y":19,"v":0.15},{"x":75,"y":21,"v":0.2},{"x":78,"y":19,"v":0.1},{"x":79,"y":22,"v":0.45},{"x":87,"y":22,"v":0.35},{"x":62,"y":22,"v":0.1},{"x":19,"y":20,"v":0.5},{"x":22,"y":19,"v":0.6},{"x":26,"y":22,"v":0.5},{"x":24,"y":23,"v":0.2},{"x":23,"y":21,"v":0.9},{"x":9,"y":25,"v":0.4},{"x":11,"y":25,"v":0.55},{"x":33,"y":26,"v":0.65},{"x":46,"y":26,"v":0.1},{"x":23,"y":26,"v":0.35},{"x":26,"y":27,"v":0.4},{"x":29,"y":27,"v":0.5},{"x":29,"y":29,"v":0.6},{"x":77,"y":27,"v":0.3},{"x":86,"y":27,"v":0.2},{"x":83,"y":29,"v":0.15},{"x":90,"y":29,"v":0.4},{"x":91,"y":30,"v":0.35},{"x":89,"y":30,"v":0.65},{"x":16,"y":31,"v":0.35},{"x":25,"y":31,"v":0.3},{"x":62,"y":31,"v":0.1},{"x":63,"y":32,"v":0.4},{"x":65,"y":33,"v":0.35},{"x":17,"y":33,"v":0.25},{"x":18,"y":35,"v":0.35},{"x":25,"y":36,"v":0.45},{"x":28,"y":35,"v":0.3},{"x":23,"y":34,"v":0.7},{"x":19,"y":37,"v":0.25},{"x":69,"y":34,"v":0.45},{"x":69,"y":31,"v":0.5},{"x":71,"y":30,"v":0.7},{"x":73,"y":36,"v":0.85},{"x":75,"y":35,"v":0.9},{"x":74,"y":38,"v":0.7},{"x":71,"y":38,"v":0.85},{"x":39,"y":37,"v":0.45},{"x":43,"y":36,"v":0.1},{"x":15,"y":40,"v":0.25},{"x":12,"y":41,"v":0.85},{"x":26,"y":39,"v":0.2},{"x":24,"y":41,"v":0.5},{"x":33,"y":40,"v":0.3},{"x":72,"y":44,"v":0.4},{"x":69,"y":44,"v":0.65},{"x":69,"y":41,"v":0.75},{"x":71,"y":41,"v":0.95},{"x":70,"y":43,"v":0.9},{"x":80,"y":41,"v":0.35},{"x":73,"y":46,"v":0.3},{"x":9,"y":46,"v":0.35},{"x":8,"y":43,"v":0.5},{"x":7,"y":45,"v":0.85},{"x":4,"y":46,"v":0.8},{"x":3,"y":47,"v":0.85},{"x":18,"y":44,"v":0.3},{"x":50,"y":43,"v":0.35},{"x":48,"y":41,"v":0.45},{"x":45,"y":46,"v":0.3},{"x":57,"y":43,"v":0.55},{"x":61,"y":45,"v":0.45},{"x":54,"y":45,"v":0.55},{"x":46,"y":48,"v":0.5},{"x":50,"y":49,"v":0.4},{"x":53,"y":48,"v":0.4},{"x":56,"y":49,"v":0.45},{"x":59,"y":48,"v":0.5},{"x":62,"y":49,"v":0.55},{"x":88,"y":52,"v":0.5},{"x":85,"y":46,"v":0.65},{"x":84,"y":48,"v":0.8},{"x":87,"y":50,"v":0.75},{"x":82,"y":51,"v":0.7},{"x":83,"y":53,"v":0.9},{"x":52,"y":51,"v":0.5},{"x":62,"y":54,"v":0.4},{"x":66,"y":53,"v":0.45},{"x":55,"y":51,"v":0.8},{"x":57,"y":52,"v":0.95},{"x":60,"y":52,"v":0.7},{"x":69,"y":50,"v":0.2},{"x":1,"y":52,"v":0.2},{"x":8,"y":53,"v":0.3},{"x":11,"y":54,"v":0.45},{"x":14,"y":54,"v":0.45},{"x":3,"y":54,"v":0.6},{"x":4,"y":55,"v":0.9},{"x":60,"y":56,"v":0.75},{"x":58,"y":54,"v":0.95},{"x":81,"y":56,"v":0.4},{"x":81,"y":54,"v":0.75},{"x":83,"y":56,"v":0.85},{"x":94,"y":54,"v":0.35},{"x":95,"y":54,"v":0.75},{"x":45,"y":53,"v":0.45},{"x":46,"y":55,"v":0.45},{"x":56,"y":57,"v":0.6},{"x":58,"y":57,"v":0.95},{"x":60,"y":59,"v":0.95},{"x":17,"y":55,"v":0.55},{"x":18,"y":56,"v":0.55},{"x":16,"y":60,"v":0.5},{"x":15,"y":58,"v":0.7},{"x":16,"y":56,"v":0.95},{"x":11,"y":59,"v":0.5},{"x":27,"y":59,"v":0.35},{"x":27,"y":57,"v":0.65},{"x":39,"y":57,"v":0.35},{"x":39,"y":60,"v":0.45},{"x":46,"y":57,"v":0.4},{"x":46,"y":59,"v":0.7},{"x":54,"y":58,"v":0.6},{"x":68,"y":56,"v":0.5},{"x":65,"y":57,"v":0.7},{"x":68,"y":59,"v":0.85},{"x":89,"y":59,"v":0.4},{"x":92,"y":58,"v":0.4},{"x":93,"y":57,"v":0.5},{"x":31,"y":61,"v":0.5},{"x":28,"y":61,"v":0.9},{"x":33,"y":64,"v":0.35},{"x":34,"y":62,"v":0.75},{"x":35,"y":64,"v":0.85},{"x":45,"y":61,"v":0.35},{"x":60,"y":64,"v":0.5},{"x":60,"y":62,"v":0.65},{"x":41,"y":62,"v":0.5},{"x":11,"y":63,"v":0.35},{"x":73,"y":65,"v":0.35},{"x":59,"y":66,"v":0.3},{"x":55,"y":65,"v":0.25},{"x":37,"y":66,"v":0.7},{"x":40,"y":65,"v":0.55},{"x":41,"y":67,"v":0.7},{"x":38,"y":68,"v":0.7},{"x":40,"y":70,"v":0.5},{"x":95,"y":67,"v":0.4},{"x":89,"y":66,"v":0.15},{"x":73,"y":67,"v":0.2},{"x":37,"y":71,"v":0.5},{"x":50,"y":70,"v":0.4},{"x":44,"y":69,"v":0.9},{"x":47,"y":69,"v":0.9},{"x":49,"y":68,"v":0.85},{"x":45,"y":71,"v":1},{"x":47,"y":71,"v":1},{"x":44,"y":73,"v":0.7},{"x":46,"y":74,"v":1},{"x":48,"y":74,"v":0.95},{"x":57,"y":72,"v":0.55},{"x":52,"y":76,"v":0.25},{"x":55,"y":74,"v":0.75},{"x":61,"y":74,"v":0.2},{"x":66,"y":70,"v":0.1},{"x":73,"y":71,"v":0.1},{"x":80,"y":70,"v":0.1},{"x":85,"y":71,"v":0.1},{"x":92,"y":72,"v":0.1},{"x":42,"y":78,"v":0.35},{"x":51,"y":78,"v":0.4},{"x":55,"y":77,"v":0.35},{"x":45,"y":76,"v":0.7},{"x":48,"y":77,"v":0.85},{"x":62,"y":78,"v":0.1},{"x":56,"y":80,"v":0.4},{"x":47,"y":80,"v":0.45},{"x":50,"y":80,"v":0.5},{"x":53,"y":80,"v":0.5},{"x":47,"y":82,"v":0.7},{"x":45,"y":83,"v":0.7},{"x":47,"y":84,"v":0.7},{"x":36,"y":83,"v":0.45},{"x":39,"y":85,"v":0.35},{"x":56,"y":83,"v":0.4},{"x":60,"y":83,"v":0.4},{"x":17,"y":86,"v":0.1},{"x":98,"y":79,"v":0.3},{"x":99,"y":80,"v":0.45},{"x":96,"y":85,"v":0.15},{"x":99,"y":86,"v":0.3},{"x":96,"y":89,"v":0.25},{"x":93,"y":91,"v":0.3},{"x":99,"y":90,"v":0.3},{"x":99,"y":93,"v":0.3},{"x":97,"y":99,"v":0.7},{"x":97,"y":97,"v":0.6},{"x":97,"y":96,"v":0.65},{"x":99,"y":94,"v":0.7},{"x":99,"y":96,"v":0.9},{"x":99,"y":98,"v":1},{"x":64,"y":98,"v":0.15}],
"em8":[{"x":38,"y":8,"v":0.35},{"x":40,"y":8,"v":0.45},{"x":37,"y":11,"v":0.3},{"x":42,"y":13,"v":0.4},{"x":45,"y":13,"v":0.15},{"x":33,"y":16,"v":0.3},{"x":21,"y":20,"v":0.1},{"x":57,"y":20,"v":0.1},{"x":68,"y":18,"v":0.1},{"x":30,"y":19,"v":0.1},{"x":24,"y":26,"v":0.25},{"x":62,"y":25,"v":0.3},{"x":62,"y":23,"v":0.45},{"x":29,"y":29,"v":0.35},{"x":28,"y":34,"v":0.5},{"x":30,"y":34,"v":0.6},{"x":28,"y":32,"v":0.85},{"x":25,"y":34,"v":0.75},{"x":28,"y":36,"v":0.45},{"x":30,"y":36,"v":0.6},{"x":25,"y":37,"v":0.65},{"x":16,"y":41,"v":0.5},{"x":20,"y":40,"v":0.4},{"x":26,"y":40,"v":0.55},{"x":19,"y":37,"v":0.75},{"x":21,"y":38,"v":0.95},{"x":24,"y":39,"v":0.75},{"x":27,"y":38,"v":0.9},{"x":29,"y":38,"v":0.6},{"x":37,"y":43,"v":0.15},
{"x":40,"y":37,"v":0.3},{"x":44,"y":38,"v":0.6},{"x":45,"y":35,"v":0.7},{"x":47,"y":34,"v":0.95},{"x":46,"y":37,"v":1},{"x":49,"y":37,"v":0.85},{"x":46,"y":40,"v":1},{"x":43,"y":43,"v":0.75},{"x":44,"y":42,"v":0.9},{"x":47,"y":42,"v":0.95},{"x":50,"y":39,"v":0.7},{"x":52,"y":38,"v":0.5},{"x":55,"y":39,"v":0.5},{"x":56,"y":36,"v":0.4},{"x":58,"y":36,"v":0.6},{"x":61,"y":36,"v":0.7},{"x":64,"y":36,"v":0.5},{"x":62,"y":27,"v":0.3},{"x":69,"y":30,"v":0.4},{"x":69,"y":36,"v":0.5},{"x":71,"y":36,"v":0.35},{"x":65,"y":30,"v":0.85},{"x":67,"y":30,"v":0.85},{"x":64,"y":32,"v":0.7},{"x":66,"y":32,"v":1},{"x":66,"y":35,"v":0.9},{"x":63,"y":39,"v":0.6},{"x":58,"y":39,"v":0.9},{"x":60,"y":39,"v":0.95},{"x":66,"y":38,"v":0.85},{"x":70,"y":42,"v":0.2},{"x":74,"y":38,"v":0.3},{"x":73,"y":42,"v":0.2},{"x":73,"y":44,"v":0.55},{"x":53,"y":41,"v":0.95},{"x":55,"y":42,"v":0.9},{"x":58,"y":42,"v":0.9},{"x":61,"y":42,"v":0.95},{"x":64,"y":42,"v":0.95},{"x":67,"y":42,"v":0.85},{"x":50,"y":44,"v":0.6},{"x":53,"y":44,"v":0.95},{"x":56,"y":44,"v":0.6},{"x":58,"y":45,"v":0.7},{"x":61,"y":45,"v":0.5},{"x":64,"y":45,"v":1},{"x":67,"y":45,"v":1},{"x":70,"y":46,"v":0.85},{"x":48,"y":48,"v":0.35},{"x":50,"y":46,"v":0.8},{"x":53,"y":47,"v":0.7},{"x":56,"y":47,"v":0.9},{"x":59,"y":48,"v":0.65},{"x":62,"y":47,"v":0.8},{"x":66,"y":48,"v":1},{"x":68,"y":48,"v":1},{"x":70,"y":49,"v":0.8},{"x":53,"y":49,"v":0.4},{"x":57,"y":50,"v":0.5},{"x":60,"y":50,"v":0.3},{"x":63,"y":50,"v":0.4},{"x":66,"y":53,"v":0.5},{"x":69,"y":53,"v":0.65},{"x":66,"y":51,"v":0.9},{"x":69,"y":51,"v":0.85},{"x":60,"y":54,"v":0.5},{"x":62,"y":54,"v":0.7},{"x":61,"y":56,"v":0.3},
{"x":3,"y":48,"v":0.3},{"x":5,"y":50,"v":0.6},{"x":1,"y":50,"v":0.85},{"x":3,"y":51,"v":0.9},{"x":1,"y":52,"v":0.7},{"x":9,"y":53,"v":0.5},{"x":10,"y":52,"v":0.5},{"x":14,"y":53,"v":0.35},{"x":2,"y":58,"v":0.5},{"x":4,"y":56,"v":0.75},{"x":7,"y":56,"v":0.65},{"x":7,"y":59,"v":0.55},{"x":10,"y":60,"v":0.5},{"x":9,"y":57,"v":0.8},{"x":12,"y":57,"v":0.75},{"x":15,"y":57,"v":0.7},{"x":13,"y":60,"v":0.85},{"x":14,"y":58,"v":0.85},{"x":7,"y":63,"v":0.4},{"x":28,"y":59,"v":0.35},{"x":33,"y":56,"v":0.4},{"x":36,"y":53,"v":0.5},{"x":37,"y":55,"v":0.6},{"x":33,"y":59,"v":0.55},{"x":34,"y":58,"v":0.8},{"x":46,"y":53,"v":0.2},
{"x":42,"y":57,"v":0.35},{"x":46,"y":58,"v":0.2},{"x":41,"y":59,"v":0.75},{"x":44,"y":59,"v":0.65},{"x":37,"y":61,"v":0.5},{"x":40,"y":62,"v":0.9},{"x":43,"y":62,"v":0.6},{"x":46,"y":61,"v":0.7},{"x":41,"y":67,"v":0.45},{"x":44,"y":67,"v":0.5},{"x":47,"y":67,"v":0.55},{"x":37,"y":64,"v":0.75},{"x":40,"y":64,"v":0.6},{"x":43,"y":65,"v":0.7},{"x":46,"y":65,"v":0.85},{"x":48,"y":65,"v":0.9},
{"x":55,"y":60,"v":0.6},{"x":57,"y":59,"v":0.85},{"x":62,"y":59,"v":0.75},{"x":65,"y":58,"v":0.9},{"x":67,"y":60,"v":0.85},{"x":69,"y":62,"v":0.4},{"x":70,"y":62,"v":0.4},{"x":55,"y":63,"v":0.5},{"x":57,"y":63,"v":0.85},{"x":60,"y":63,"v":0.85},{"x":63,"y":62,"v":0.95},{"x":66,"y":62,"v":0.95},{"x":51,"y":65,"v":0.4},{"x":53,"y":65,"v":0.7},{"x":56,"y":65,"v":0.85},{"x":59,"y":65,"v":0.95},{"x":62,"y":65,"v":0.9},{"x":65,"y":65,"v":0.9},{"x":67,"y":66,"v":0.85},{"x":70,"y":65,"v":0.75},{"x":51,"y":68,"v":0.9},{"x":54,"y":68,"v":0.85},{"x":57,"y":68,"v":0.95},{"x":60,"y":68,"v":1},{"x":63,"y":68,"v":0.9},{"x":66,"y":69,"v":0.7},{"x":69,"y":68,"v":0.55},{"x":51,"y":71,"v":0.95},{"x":54,"y":71,"v":0.9},{"x":57,"y":71,"v":0.85},{"x":60,"y":71,"v":0.6},{"x":63,"y":71,"v":0.7},{"x":66,"y":71,"v":0.4},{"x":50,"y":77,"v":0.5},{"x":53,"y":78,"v":0.4},{"x":56,"y":78,"v":0.5},{"x":62,"y":79,"v":0.4},{"x":59,"y":77,"v":0.85},{"x":50,"y":74,"v":0.9},{"x":52,"y":75,"v":0.95},{"x":59,"y":74,"v":0.95},{"x":61,"y":75,"v":0.7},{"x":43,"y":73,"v":0.2},{"x":44,"y":75,"v":0.5},{"x":48,"y":75,"v":0.1},{"x":46,"y":82,"v":0.35},{"x":47,"y":84,"v":0.75},{"x":36,"y":89,"v":0.55},{"x":36,"y":85,"v":0.65},{"x":39,"y":85,"v":0.6},{"x":35,"y":87,"v":0.85},{"x":38,"y":87,"v":0.95},{"x":41,"y":89,"v":0.15},{"x":30,"y":88,"v":0.3},{"x":44,"y":89,"v":0.3},{"x":58,"y":84,"v":0.3},{"x":60,"y":87,"v":0.5},{"x":60,"y":89,"v":0.4},{"x":42,"y":94,"v":0.35},{"x":84,"y":47,"v":0.35},{"x":85,"y":49,"v":0.25},{"x":85,"y":52,"v":0.2},{"x":83,"y":54,"v":0.3},{"x":94,"y":55,"v":0.35},{"x":88,"y":59,"v":0.15},{"x":90,"y":65,"v":0.2},{"x":89,"y":68,"v":0.1},{"x":97,"y":67,"v":0.25},{"x":99,"y":66,"v":0.4},{"x":97,"y":70,"v":0.2},{"x":90,"y":73,"v":0.45},{"x":98,"y":72,"v":0.4},{"x":92,"y":74,"v":0.65},{"x":95,"y":74,"v":0.55},{"x":98,"y":74,"v":0.75},{"x":99,"y":75,"v":1},{"x":95,"y":88,"v":0.3},{"x":99,"y":93,"v":0.55},{"x":95,"y":90,"v":0.75},{"x":95,"y":91,"v":0.8},{"x":98,"y":92,"v":0.9}],
"em9":[{"x":19,"y":1,"v":0.35},{"x":22,"y":3,"v":0.15},{"x":33,"y":4,"v":0.15},{"x":28,"y":4,"v":0.15},{"x":37,"y":6,"v":0.35},{"x":39,"y":7,"v":0.2},{"x":1,"y":7,"v":0.45},{"x":22,"y":8,"v":0.5},{"x":21,"y":6,"v":0.55},{"x":23,"y":5,"v":0.75},{"x":26,"y":6,"v":0.75},{"x":24,"y":7,"v":0.95},{"x":24,"y":9,"v":0.8},{"x":47,"y":12,"v":0.2},{"x":20,"y":19,"v":0.5},{"x":20,"y":20,"v":0.65},{"x":33,"y":27,"v":0.15},{"x":30,"y":29,"v":0.15},{"x":15,"y":32,"v":0.15},{"x":28,"y":35,"v":0.35},{"x":28,"y":38,"v":0.35},{"x":31,"y":37,"v":0.15},{"x":15,"y":39,"v":0.2},{"x":20,"y":39,"v":0.25},{"x":17,"y":41,"v":0.3},{"x":32,"y":39,"v":0.7},{"x":13,"y":44,"v":0.5},{"x":18,"y":42,"v":0.8},{"x":21,"y":42,"v":0.8},{"x":24,"y":42,"v":0.55},{"x":27,"y":42,"v":0.8},{"x":30,"y":42,"v":0.95},{"x":33,"y":42,"v":0.9},{"x":36,"y":42,"v":0.75},{"x":39,"y":42,"v":0.8},{"x":43,"y":42,"v":0.4},{"x":10,"y":45,"v":0.65},{"x":13,"y":45,"v":0.95},{"x":16,"y":45,"v":1},{"x":19,"y":45,"v":0.9},{"x":22,"y":45,"v":0.95},{"x":25,"y":45,"v":1},{"x":28,"y":45,"v":1},{"x":31,"y":45,"v":1},{"x":34,"y":45,"v":0.95},{"x":37,"y":45,"v":0.8},{"x":40,"y":45,"v":0.95},{"x":43,"y":45,"v":0.75},{"x":47,"y":45,"v":0.5},{"x":7,"y":48,"v":0.75},{"x":10,"y":48,"v":0.95},{"x":13,"y":48,"v":1},{"x":16,"y":48,"v":1},{"x":19,"y":48,"v":1},{"x":22,"y":48,"v":1},{"x":25,"y":48,"v":1},{"x":28,"y":48,"v":1},{"x":31,"y":48,"v":1},{"x":34,"y":48,"v":1},{"x":37,"y":48,"v":1},{"x":40,"y":48,"v":0.95},{"x":43,"y":48,"v":0.95},{"x":46,"y":48,"v":0.65},{"x":49,"y":48,"v":0.4},{"x":6,"y":51,"v":0.8},{"x":9,"y":51,"v":0.95},{"x":12,"y":51,"v":1},{"x":15,"y":51,"v":1},{"x":18,"y":51,"v":1},{"x":21,"y":51,"v":1},{"x":24,"y":51,"v":1},{"x":27,"y":51,"v":1},{"x":30,"y":51,"v":1},{"x":33,"y":51,"v":1},{"x":36,"y":51,"v":1},{"x":39,"y":51,"v":1},{"x":42,"y":51,"v":1},{"x":45,"y":51,"v":0.9},{"x":4,"y":54,"v":0.4},{"x":7,"y":54,"v":0.7},{"x":11,"y":53,"v":0.7},{"x":16,"y":54,"v":0.9},{"x":19,"y":54,"v":0.8},{"x":22,"y":54,"v":0.9},{"x":25,"y":54,"v":1},{"x":28,"y":54,"v":1},{"x":31,"y":54,"v":1},{"x":34,"y":54,"v":1},{"x":37,"y":54,"v":0.8},{"x":40,"y":54,"v":0.95},{"x":43,"y":54,"v":0.9},{"x":46,"y":54,"v":0.75},{"x":49,"y":55,"v":0.5},{"x":1,"y":57,"v":0.5},{"x":3,"y":56,"v":0.35},{"x":7,"y":57,"v":0.25},{"x":17,"y":57,"v":0.4},{"x":20,"y":57,"v":0.7},{"x":23,"y":57,"v":0.85},{"x":26,"y":57,"v":0.8},{"x":30,"y":57,"v":0.9},{"x":33,"y":57,"v":0.7},{"x":36,"y":57,"v":0.5},{"x":39,"y":57,"v":0.75},{"x":42,"y":57,"v":0.65},{"x":46,"y":57,"v":0.9},{"x":49,"y":57,"v":0.95},{"x":52,"y":57,"v":0.4},{"x":55,"y":57,"v":0.45},{"x":2,"y":60,"v":0.3},{"x":28,"y":60,"v":0.5},{"x":31,"y":60,"v":0.9},{"x":34,"y":60,"v":0.35},{"x":37,"y":60,"v":0.75},{"x":43,"y":60,"v":0.3},{"x":48,"y":60,"v":0.9},{"x":51,"y":60,"v":0.95},{"x":54,"y":60,"v":0.6},{"x":57,"y":59,"v":0.4},{"x":10,"y":62,"v":0.4},{"x":1,"y":63,"v":0.45},{"x":32,"y":63,"v":0.45},{"x":29,"y":62,"v":0.65},{"x":36,"y":63,"v":0.45},{"x":47,"y":63,"v":0.7},{"x":50,"y":63,"v":0.95},{"x":52,"y":63,"v":0.55},{"x":55,"y":62,"v":0.3},{"x":9,"y":65,"v":0.3},{"x":10,"y":68,"v":0.3},{"x":50,"y":69,"v":0.75},{"x":53,"y":69,"v":0.4},{"x":56,"y":69,"v":0.4},{"x":48,"y":66,"v":0.85},{"x":50,"y":66,"v":0.9},{"x":52,"y":67,"v":0.9},{"x":35,"y":69,"v":0.4},{"x":36,"y":71,"v":0.55},{"x":41,"y":72,"v":0.45},{"x":39,"y":70,"v":0.2},{"x":59,"y":45,"v":0.4},{"x":62,"y":45,"v":0.1},{"x":61,"y":51,"v":0.3},{"x":63,"y":50,"v":0.65},{"x":63,"y":58,"v":0.65},{"x":63,"y":56,"v":0.9},{"x":68,"y":56,"v":0.35},{"x":72,"y":59,"v":0.4},
{"x":75,"y":40,"v":0.55},{"x":78,"y":41,"v":0.85},{"x":76,"y":42,"v":0.95},{"x":76,"y":44,"v":0.9},{"x":81,"y":43,"v":0.6},{"x":72,"y":47,"v":0.75},{"x":75,"y":47,"v":1},{"x":78,"y":47,"v":1},{"x":81,"y":47,"v":0.95},{"x":73,"y":50,"v":0.8},{"x":75,"y":50,"v":1},{"x":78,"y":50,"v":1},{"x":81,"y":50,"v":0.7},{"x":67,"y":54,"v":0.5},{"x":70,"y":54,"v":0.6},{"x":72,"y":53,"v":0.85},{"x":75,"y":53,"v":1},{"x":78,"y":53,"v":1},{"x":81,"y":53,"v":0.8},{"x":73,"y":55,"v":0.85},{"x":76,"y":56,"v":0.95},{"x":78,"y":56,"v":0.8},{"x":84,"y":52,"v":0.2},{"x":87,"y":48,"v":0.2},{"x":75,"y":58,"v":0.75},{"x":77,"y":59,"v":0.35},{"x":80,"y":60,"v":0.55},{"x":83,"y":60,"v":0.3},{"x":84,"y":58,"v":0.45},{"x":78,"y":62,"v":0.25},{"x":80,"y":62,"v":0.5},{"x":83,"y":63,"v":0.45},{"x":85,"y":60,"v":0.65},{"x":89,"y":61,"v":0.5},{"x":92,"y":61,"v":0.6},{"x":95,"y":58,"v":0.5},{"x":96,"y":60,"v":0.6},{"x":97,"y":62,"v":0.55},{"x":95,"y":63,"v":0.7},{"x":87,"y":62,"v":0.85},{"x":89,"y":64,"v":0.95},{"x":92,"y":64,"v":0.95},{"x":86,"y":65,"v":0.8},{"x":98,"y":63,"v":0.85},{"x":89,"y":67,"v":0.75},{"x":92,"y":67,"v":0.85},{"x":95,"y":66,"v":0.85},{"x":98,"y":66,"v":0.7},{"x":99,"y":68,"v":0.75},{"x":84,"y":69,"v":0.35},{"x":81,"y":70,"v":0.15},{"x":88,"y":71,"v":0.4},{"x":90,"y":70,"v":0.6},{"x":93,"y":70,"v":0.95},{"x":96,"y":70,"v":0.85},{"x":99,"y":70,"v":0.9},{"x":90,"y":73,"v":0.35},{"x":92,"y":73,"v":0.8},{"x":95,"y":73,"v":0.9},{"x":98,"y":73,"v":0.85},{"x":92,"y":76,"v":0.5},{"x":95,"y":76,"v":0.6},{"x":97,"y":76,"v":0.55},{"x":91,"y":79,"v":0.75},{"x":94,"y":79,"v":0.9},{"x":97,"y":79,"v":0.85},{"x":99,"y":78,"v":0.8},{"x":92,"y":82,"v":0.35},{"x":95,"y":82,"v":0.95},{"x":98,"y":82,"v":0.85},{"x":94,"y":86,"v":0.6},{"x":97,"y":87,"v":0.55},{"x":95,"y":85,"v":0.85},{"x":98,"y":85,"v":0.9},{"x":97,"y":89,"v":0.55},{"x":99,"y":90,"v":0.8},{"x":97,"y":92,"v":0.75},{"x":93,"y":92,"v":0.2},{"x":88,"y":36,"v":0.1},{"x":91,"y":36,"v":0.2},{"x":91,"y":38,"v":0.25},{"x":93,"y":39,"v":0.25},{"x":92,"y":40,"v":0.4},{"x":86,"y":35,"v":0.1},{"x":84,"y":38,"v":0.1},{"x":90,"y":33,"v":0.15},{"x":90,"y":26,"v":0.15},{"x":47,"y":80,"v":0.25},{"x":10,"y":82,"v":0.15},{"x":42,"y":89,"v":0.3},{"x":42,"y":96,"v":0.65},{"x":43,"y":94,"v":0.75},{"x":40,"y":98,"v":0.4},{"x":41,"y":99,"v":0.75},{"x":94,"y":95,"v":0.6},{"x":95,"y":97,"v":0.5},{"x":95,"y":100,"v":0.35}]
},
"concat":[
{"title":"EM1","data":{"name":"em1"},"mark":{"type":"rect","width":30,"height":31,"clip":true},"encoding":{"order":{"field":"v"},"x":{"field":"x","type":"quantitative","scale":{"domain":[0.5,100.5]},"axis":{"values":[20,40,60,80,100]}},"y":{"field":"y","type":"quantitative","scale":{"domain":[100.5,0.5]},"axis":{"values":[20,40,60,80,100]}},"color":{"field":"v","type":"quantitative","scale":{"domain":[0,0.125,0.375,0.625,0.875,1],"range":["#00007f","#0000ff","#00ffff","#ffff00","#ff0000","#7f0000"]},"legend":{"title":null,"orient":"none","legendX":832,"legendY":-2,"values":[0,0.2,0.4,0.6,0.8,1],"format":".1~f","encode":{"labels":{"update":{"baseline":{"value":"middle"}}}}}}}},
{"title":"EM2","data":{"name":"em2"},"mark":{"type":"rect","width":30,"height":31,"clip":true},"encoding":{"order":{"field":"v"},"x":{"field":"x","type":"quantitative","scale":{"domain":[0.5,100.5]},"axis":{"values":[20,40,60,80,100]}},"y":{"field":"y","type":"quantitative","scale":{"domain":[100.5,0.5]},"axis":{"values":[20,40,60,80,100]}},"color":{"field":"v","type":"quantitative","scale":{"domain":[0,0.125,0.375,0.625,0.875,1],"range":["#00007f","#0000ff","#00ffff","#ffff00","#ff0000","#7f0000"]},"legend":{"title":null,"orient":"none","legendX":832,"legendY":-2,"values":[0,0.2,0.4,0.6,0.8,1],"format":".1~f","encode":{"labels":{"update":{"baseline":{"value":"middle"}}}}}}}},
{"title":"EM3","data":{"name":"em3"},"mark":{"type":"rect","width":30,"height":31,"clip":true},"encoding":{"order":{"field":"v"},"x":{"field":"x","type":"quantitative","scale":{"domain":[0.5,100.5]},"axis":{"values":[20,40,60,80,100]}},"y":{"field":"y","type":"quantitative","scale":{"domain":[100.5,0.5]},"axis":{"values":[20,40,60,80,100]}},"color":{"field":"v","type":"quantitative","scale":{"domain":[0,0.125,0.375,0.625,0.875,1],"range":["#00007f","#0000ff","#00ffff","#ffff00","#ff0000","#7f0000"]},"legend":{"title":null,"orient":"none","legendX":832,"legendY":-2,"values":[0,0.2,0.4,0.6,0.8,1],"format":".1~f","encode":{"labels":{"update":{"baseline":{"value":"middle"}}}}}}}},
{"title":"EM4","data":{"name":"em4"},"mark":{"type":"rect","width":30,"height":31,"clip":true},"encoding":{"order":{"field":"v"},"x":{"field":"x","type":"quantitative","scale":{"domain":[0.5,100.5]},"axis":{"values":[20,40,60,80,100]}},"y":{"field":"y","type":"quantitative","scale":{"domain":[100.5,0.5]},"axis":{"values":[20,40,60,80,100]}},"color":{"field":"v","type":"quantitative","scale":{"domain":[0,0.125,0.375,0.625,0.875,1],"range":["#00007f","#0000ff","#00ffff","#ffff00","#ff0000","#7f0000"]},"legend":{"title":null,"orient":"none","legendX":832,"legendY":-2,"values":[0,0.2,0.4,0.6,0.8,1],"format":".1~f","encode":{"labels":{"update":{"baseline":{"value":"middle"}}}}}}}},
{"title":"EM5","data":{"name":"em5"},"mark":{"type":"rect","width":30,"height":31,"clip":true},"encoding":{"order":{"field":"v"},"x":{"field":"x","type":"quantitative","scale":{"domain":[0.5,100.5]},"axis":{"values":[20,40,60,80,100]}},"y":{"field":"y","type":"quantitative","scale":{"domain":[100.5,0.5]},"axis":{"values":[20,40,60,80,100]}},"color":{"field":"v","type":"quantitative","scale":{"domain":[0,0.125,0.375,0.625,0.875,1],"range":["#00007f","#0000ff","#00ffff","#ffff00","#ff0000","#7f0000"]},"legend":{"title":null,"orient":"none","legendX":832,"legendY":-2,"values":[0,0.2,0.4,0.6,0.8,1],"format":".1~f","encode":{"labels":{"update":{"baseline":{"value":"middle"}}}}}}}},
{"title":"EM6","data":{"name":"em6"},"mark":{"type":"rect","width":30,"height":31,"clip":true},"encoding":{"order":{"field":"v"},"x":{"field":"x","type":"quantitative","scale":{"domain":[0.5,100.5]},"axis":{"values":[20,40,60,80,100]}},"y":{"field":"y","type":"quantitative","scale":{"domain":[100.5,0.5]},"axis":{"values":[20,40,60,80,100]}},"color":{"field":"v","type":"quantitative","scale":{"domain":[0,0.125,0.375,0.625,0.875,1],"range":["#00007f","#0000ff","#00ffff","#ffff00","#ff0000","#7f0000"]},"legend":{"title":null,"orient":"none","legendX":832,"legendY":-2,"values":[0,0.2,0.4,0.6,0.8,1],"format":".1~f","encode":{"labels":{"update":{"baseline":{"value":"middle"}}}}}}}},
{"title":"EM7","data":{"name":"em7"},"mark":{"type":"rect","width":30,"height":31,"clip":true},"encoding":{"order":{"field":"v"},"x":{"field":"x","type":"quantitative","scale":{"domain":[0.5,100.5]},"axis":{"values":[20,40,60,80,100]}},"y":{"field":"y","type":"quantitative","scale":{"domain":[100.5,0.5]},"axis":{"values":[20,40,60,80,100]}},"color":{"field":"v","type":"quantitative","scale":{"domain":[0,0.125,0.375,0.625,0.875,1],"range":["#00007f","#0000ff","#00ffff","#ffff00","#ff0000","#7f0000"]},"legend":{"title":null,"orient":"none","legendX":832,"legendY":-2,"values":[0,0.2,0.4,0.6,0.8,1],"format":".1~f","encode":{"labels":{"update":{"baseline":{"value":"middle"}}}}}}}},
{"title":"EM8","data":{"name":"em8"},"mark":{"type":"rect","width":30,"height":31,"clip":true},"encoding":{"order":{"field":"v"},"x":{"field":"x","type":"quantitative","scale":{"domain":[0.5,100.5]},"axis":{"values":[20,40,60,80,100]}},"y":{"field":"y","type":"quantitative","scale":{"domain":[100.5,0.5]},"axis":{"values":[20,40,60,80,100]}},"color":{"field":"v","type":"quantitative","scale":{"domain":[0,0.125,0.375,0.625,0.875,1],"range":["#00007f","#0000ff","#00ffff","#ffff00","#ff0000","#7f0000"]},"legend":{"title":null,"orient":"none","legendX":832,"legendY":-2,"values":[0,0.2,0.4,0.6,0.8,1],"format":".1~f","encode":{"labels":{"update":{"baseline":{"value":"middle"}}}}}}}},
{"title":"EM9","data":{"name":"em9"},"mark":{"type":"rect","width":30,"height":31,"clip":true},"encoding":{"order":{"field":"v"},"x":{"field":"x","type":"quantitative","scale":{"domain":[0.5,100.5]},"axis":{"values":[20,40,60,80,100]}},"y":{"field":"y","type":"quantitative","scale":{"domain":[100.5,0.5]},"axis":{"values":[20,40,60,80,100]}},"color":{"field":"v","type":"quantitative","scale":{"domain":[0,0.125,0.375,0.625,0.875,1],"range":["#00007f","#0000ff","#00ffff","#ffff00","#ff0000","#7f0000"]},"legend":{"title":null,"orient":"none","legendX":832,"legendY":-2,"values":[0,0.2,0.4,0.6,0.8,1],"format":".1~f","encode":{"labels":{"update":{"baseline":{"value":"middle"}}}}}}}}
]}
